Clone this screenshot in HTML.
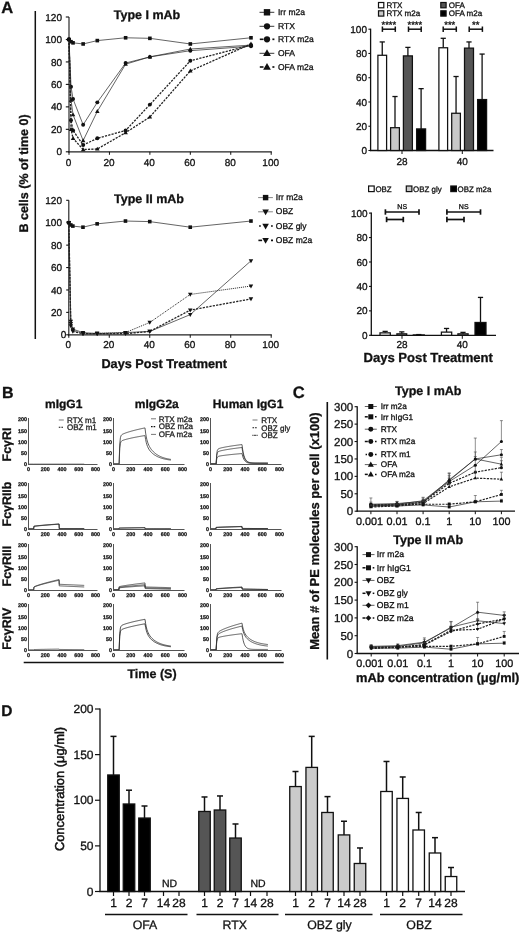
<!DOCTYPE html>
<html lang="en"><head><meta charset="utf-8"><title>Figure</title>
<style>
html,body{margin:0;padding:0;background:#fff;}
svg{display:block;font-family:"Liberation Sans", sans-serif;will-change:transform;transform:translateZ(0);filter:blur(0.35px);}
text{text-rendering:geometricPrecision;}
</style></head><body>
<svg width="520" height="934" viewBox="0 0 520 934">
<rect x="0" y="0" width="520" height="934" fill="#fff"/>
<text x="1.20" y="13.20" font-size="16.5" font-weight="bold" text-anchor="start" fill="#111" stroke="#111" stroke-width="0.3">A</text>
<line x1="35.30" y1="11.00" x2="35.30" y2="339.00" stroke="#111" stroke-width="1.5" stroke-linecap="butt"/>
<text x="28.00" y="173.50" font-size="12.5" font-weight="bold" text-anchor="middle" fill="#111" stroke="#111" stroke-width="0.3" transform="rotate(-90 28 173.5)">B cells (% of time 0)</text>
<line x1="69.00" y1="17.00" x2="69.00" y2="152.40" stroke="#222" stroke-width="1.15" stroke-linecap="butt"/>
<line x1="68.40" y1="151.80" x2="271.80" y2="151.80" stroke="#222" stroke-width="1.25" stroke-linecap="butt"/>
<line x1="65.80" y1="151.80" x2="69.00" y2="151.80" stroke="#111" stroke-width="1.1" stroke-linecap="butt"/>
<text x="62.00" y="155.40" font-size="10" font-weight="normal" text-anchor="end" fill="#111" stroke="#111" stroke-width="0.3">0</text>
<line x1="65.80" y1="129.33" x2="69.00" y2="129.33" stroke="#111" stroke-width="1.1" stroke-linecap="butt"/>
<text x="62.00" y="132.93" font-size="10" font-weight="normal" text-anchor="end" fill="#111" stroke="#111" stroke-width="0.3">20</text>
<line x1="65.80" y1="106.87" x2="69.00" y2="106.87" stroke="#111" stroke-width="1.1" stroke-linecap="butt"/>
<text x="62.00" y="110.47" font-size="10" font-weight="normal" text-anchor="end" fill="#111" stroke="#111" stroke-width="0.3">40</text>
<line x1="65.80" y1="84.40" x2="69.00" y2="84.40" stroke="#111" stroke-width="1.1" stroke-linecap="butt"/>
<text x="62.00" y="88.00" font-size="10" font-weight="normal" text-anchor="end" fill="#111" stroke="#111" stroke-width="0.3">60</text>
<line x1="65.80" y1="61.93" x2="69.00" y2="61.93" stroke="#111" stroke-width="1.1" stroke-linecap="butt"/>
<text x="62.00" y="65.53" font-size="10" font-weight="normal" text-anchor="end" fill="#111" stroke="#111" stroke-width="0.3">80</text>
<line x1="65.80" y1="39.47" x2="69.00" y2="39.47" stroke="#111" stroke-width="1.1" stroke-linecap="butt"/>
<text x="62.00" y="43.07" font-size="10" font-weight="normal" text-anchor="end" fill="#111" stroke="#111" stroke-width="0.3">100</text>
<line x1="65.80" y1="17.00" x2="69.00" y2="17.00" stroke="#111" stroke-width="1.1" stroke-linecap="butt"/>
<text x="62.00" y="20.60" font-size="10" font-weight="normal" text-anchor="end" fill="#111" stroke="#111" stroke-width="0.3">120</text>
<line x1="69.00" y1="151.80" x2="69.00" y2="154.80" stroke="#111" stroke-width="1" stroke-linecap="butt"/>
<text x="68.50" y="166.20" font-size="10" font-weight="normal" text-anchor="middle" fill="#111" stroke="#111" stroke-width="0.3">0</text>
<line x1="109.44" y1="151.80" x2="109.44" y2="154.80" stroke="#111" stroke-width="1" stroke-linecap="butt"/>
<text x="108.94" y="166.20" font-size="10" font-weight="normal" text-anchor="middle" fill="#111" stroke="#111" stroke-width="0.3">20</text>
<line x1="149.88" y1="151.80" x2="149.88" y2="154.80" stroke="#111" stroke-width="1" stroke-linecap="butt"/>
<text x="149.38" y="166.20" font-size="10" font-weight="normal" text-anchor="middle" fill="#111" stroke="#111" stroke-width="0.3">40</text>
<line x1="190.32" y1="151.80" x2="190.32" y2="154.80" stroke="#111" stroke-width="1" stroke-linecap="butt"/>
<text x="189.82" y="166.20" font-size="10" font-weight="normal" text-anchor="middle" fill="#111" stroke="#111" stroke-width="0.3">60</text>
<line x1="230.76" y1="151.80" x2="230.76" y2="154.80" stroke="#111" stroke-width="1" stroke-linecap="butt"/>
<text x="230.26" y="166.20" font-size="10" font-weight="normal" text-anchor="middle" fill="#111" stroke="#111" stroke-width="0.3">80</text>
<line x1="271.20" y1="151.80" x2="271.20" y2="154.80" stroke="#111" stroke-width="1" stroke-linecap="butt"/>
<text x="270.70" y="166.20" font-size="10" font-weight="normal" text-anchor="middle" fill="#111" stroke="#111" stroke-width="0.3">100</text>
<text x="147.00" y="18.50" font-size="12.5" font-weight="bold" text-anchor="middle" fill="#111" stroke="#111" stroke-width="0.3">Type I mAb</text>
<polyline points="69.00,39.47 71.02,41.71 73.04,42.84 83.15,43.96 97.31,40.59 125.62,37.78 149.88,38.34 190.32,43.96 250.98,37.78" fill="none" stroke="#222" stroke-width="0.7" stroke-linejoin="round"/>
<rect x="67.20" y="37.67" width="3.60" height="3.60" fill="#111"/>
<rect x="69.22" y="39.91" width="3.60" height="3.60" fill="#111"/>
<rect x="71.24" y="41.04" width="3.60" height="3.60" fill="#111"/>
<rect x="81.35" y="42.16" width="3.60" height="3.60" fill="#111"/>
<rect x="95.51" y="38.79" width="3.60" height="3.60" fill="#111"/>
<rect x="123.82" y="35.98" width="3.60" height="3.60" fill="#111"/>
<rect x="148.08" y="36.54" width="3.60" height="3.60" fill="#111"/>
<rect x="188.52" y="42.16" width="3.60" height="3.60" fill="#111"/>
<rect x="249.18" y="35.98" width="3.60" height="3.60" fill="#111"/>
<polyline points="69.00,39.47 71.02,86.65 73.04,99.00 83.15,124.84 97.31,102.37 125.62,63.06 149.88,56.88 190.32,50.70 250.98,46.21" fill="none" stroke="#222" stroke-width="0.7" stroke-linejoin="round"/>
<circle cx="69.00" cy="39.47" r="1.98" fill="#111"/>
<circle cx="71.02" cy="86.65" r="1.98" fill="#111"/>
<circle cx="73.04" cy="99.00" r="1.98" fill="#111"/>
<circle cx="83.15" cy="124.84" r="1.98" fill="#111"/>
<circle cx="97.31" cy="102.37" r="1.98" fill="#111"/>
<circle cx="125.62" cy="63.06" r="1.98" fill="#111"/>
<circle cx="149.88" cy="56.88" r="1.98" fill="#111"/>
<circle cx="190.32" cy="50.70" r="1.98" fill="#111"/>
<circle cx="250.98" cy="46.21" r="1.98" fill="#111"/>
<polyline points="69.00,39.47 71.02,100.13 73.04,114.73 83.15,140.57 97.31,111.36 125.62,64.18 149.88,56.88 190.32,49.02 250.98,45.08" fill="none" stroke="#222" stroke-width="0.7" stroke-linejoin="round"/>
<polygon points="69.00,37.13 66.75,41.09 71.25,41.09" fill="#111"/>
<polygon points="71.02,97.79 68.77,101.75 73.27,101.75" fill="#111"/>
<polygon points="73.04,112.39 70.79,116.35 75.29,116.35" fill="#111"/>
<polygon points="83.15,138.23 80.90,142.19 85.40,142.19" fill="#111"/>
<polygon points="97.31,109.02 95.06,112.98 99.56,112.98" fill="#111"/>
<polygon points="125.62,61.84 123.37,65.80 127.87,65.80" fill="#111"/>
<polygon points="149.88,54.54 147.63,58.50 152.13,58.50" fill="#111"/>
<polygon points="190.32,46.67 188.07,50.63 192.57,50.63" fill="#111"/>
<polygon points="250.98,42.74 248.73,46.70 253.23,46.70" fill="#111"/>
<polyline points="69.00,39.47 71.02,120.35 73.04,130.46 83.15,145.06 97.31,138.32 125.62,130.46 149.88,104.62 190.32,60.81 250.98,45.08" fill="none" stroke="#222" stroke-width="1.3" stroke-dasharray="2.2 1.2" stroke-linejoin="round"/>
<circle cx="69.00" cy="39.47" r="1.98" fill="#111"/>
<circle cx="71.02" cy="120.35" r="1.98" fill="#111"/>
<circle cx="73.04" cy="130.46" r="1.98" fill="#111"/>
<circle cx="83.15" cy="145.06" r="1.98" fill="#111"/>
<circle cx="97.31" cy="138.32" r="1.98" fill="#111"/>
<circle cx="125.62" cy="130.46" r="1.98" fill="#111"/>
<circle cx="149.88" cy="104.62" r="1.98" fill="#111"/>
<circle cx="190.32" cy="60.81" r="1.98" fill="#111"/>
<circle cx="250.98" cy="45.08" r="1.98" fill="#111"/>
<polyline points="69.00,39.47 71.02,129.33 73.04,138.32 83.15,149.55 97.31,148.99 125.62,132.70 149.88,116.98 190.32,70.92 250.98,43.96" fill="none" stroke="#222" stroke-width="1.3" stroke-dasharray="2.2 1.2" stroke-linejoin="round"/>
<polygon points="69.00,37.13 66.75,41.09 71.25,41.09" fill="#111"/>
<polygon points="71.02,126.99 68.77,130.95 73.27,130.95" fill="#111"/>
<polygon points="73.04,135.98 70.79,139.94 75.29,139.94" fill="#111"/>
<polygon points="83.15,147.21 80.90,151.17 85.40,151.17" fill="#111"/>
<polygon points="97.31,146.65 95.06,150.61 99.56,150.61" fill="#111"/>
<polygon points="125.62,130.36 123.37,134.32 127.87,134.32" fill="#111"/>
<polygon points="149.88,114.64 147.63,118.60 152.13,118.60" fill="#111"/>
<polygon points="190.32,68.58 188.07,72.54 192.57,72.54" fill="#111"/>
<polygon points="250.98,41.62 248.73,45.58 253.23,45.58" fill="#111"/>
<line x1="259.50" y1="12.30" x2="274.30" y2="12.30" stroke="#222" stroke-width="0.9" stroke-linecap="butt"/>
<rect x="263.80" y="9.10" width="6.40" height="6.40" fill="#111"/>
<text x="278.00" y="14.90" font-size="8.5" font-weight="normal" text-anchor="start" fill="#111" stroke="#111" stroke-width="0.3">Irr m2a</text>
<line x1="259.50" y1="26.30" x2="274.30" y2="26.30" stroke="#222" stroke-width="0.9" stroke-linecap="butt"/>
<circle cx="267.00" cy="26.30" r="3.14" fill="#111"/>
<text x="278.00" y="28.90" font-size="8.5" font-weight="normal" text-anchor="start" fill="#111" stroke="#111" stroke-width="0.3">RTX</text>
<line x1="259.80" y1="39.30" x2="263.50" y2="39.30" stroke="#111" stroke-width="1.6" stroke-linecap="butt"/>
<line x1="272.40" y1="39.30" x2="274.40" y2="39.30" stroke="#111" stroke-width="1.7" stroke-linecap="butt"/>
<circle cx="267.00" cy="39.30" r="3.14" fill="#111"/>
<text x="278.00" y="41.90" font-size="8.5" font-weight="normal" text-anchor="start" fill="#111" stroke="#111" stroke-width="0.3">RTX m2a</text>
<line x1="259.50" y1="53.30" x2="274.30" y2="53.30" stroke="#222" stroke-width="0.9" stroke-linecap="butt"/>
<polygon points="267.00,49.27 263.12,56.09 270.88,56.09" fill="#111"/>
<text x="278.00" y="55.90" font-size="8.5" font-weight="normal" text-anchor="start" fill="#111" stroke="#111" stroke-width="0.3">OFA</text>
<line x1="259.80" y1="67.00" x2="263.50" y2="67.00" stroke="#111" stroke-width="1.6" stroke-linecap="butt"/>
<line x1="272.40" y1="67.00" x2="274.40" y2="67.00" stroke="#111" stroke-width="1.7" stroke-linecap="butt"/>
<polygon points="267.00,62.97 263.12,69.79 270.88,69.79" fill="#111"/>
<text x="278.00" y="69.60" font-size="8.5" font-weight="normal" text-anchor="start" fill="#111" stroke="#111" stroke-width="0.3">OFA m2a</text>
<line x1="68.80" y1="200.30" x2="68.80" y2="335.40" stroke="#222" stroke-width="1.15" stroke-linecap="butt"/>
<line x1="68.20" y1="334.80" x2="271.80" y2="334.80" stroke="#222" stroke-width="1.25" stroke-linecap="butt"/>
<line x1="66.20" y1="334.80" x2="68.80" y2="334.80" stroke="#111" stroke-width="1.1" stroke-linecap="butt"/>
<text x="66.20" y="338.40" font-size="10" font-weight="normal" text-anchor="end" fill="#111" stroke="#111" stroke-width="0.3">0</text>
<line x1="66.20" y1="312.38" x2="68.80" y2="312.38" stroke="#111" stroke-width="1.1" stroke-linecap="butt"/>
<text x="62.00" y="315.98" font-size="10" font-weight="normal" text-anchor="end" fill="#111" stroke="#111" stroke-width="0.3">20</text>
<line x1="66.20" y1="289.97" x2="68.80" y2="289.97" stroke="#111" stroke-width="1.1" stroke-linecap="butt"/>
<text x="62.00" y="293.57" font-size="10" font-weight="normal" text-anchor="end" fill="#111" stroke="#111" stroke-width="0.3">40</text>
<line x1="66.20" y1="267.55" x2="68.80" y2="267.55" stroke="#111" stroke-width="1.1" stroke-linecap="butt"/>
<text x="62.00" y="271.15" font-size="10" font-weight="normal" text-anchor="end" fill="#111" stroke="#111" stroke-width="0.3">60</text>
<line x1="66.20" y1="245.13" x2="68.80" y2="245.13" stroke="#111" stroke-width="1.1" stroke-linecap="butt"/>
<text x="62.00" y="248.73" font-size="10" font-weight="normal" text-anchor="end" fill="#111" stroke="#111" stroke-width="0.3">80</text>
<line x1="66.20" y1="222.72" x2="68.80" y2="222.72" stroke="#111" stroke-width="1.1" stroke-linecap="butt"/>
<text x="62.00" y="226.32" font-size="10" font-weight="normal" text-anchor="end" fill="#111" stroke="#111" stroke-width="0.3">100</text>
<line x1="66.20" y1="200.30" x2="68.80" y2="200.30" stroke="#111" stroke-width="1.1" stroke-linecap="butt"/>
<text x="62.00" y="203.90" font-size="10" font-weight="normal" text-anchor="end" fill="#111" stroke="#111" stroke-width="0.3">120</text>
<line x1="68.80" y1="334.80" x2="68.80" y2="337.80" stroke="#111" stroke-width="1" stroke-linecap="butt"/>
<text x="68.30" y="348.00" font-size="10" font-weight="normal" text-anchor="middle" fill="#111" stroke="#111" stroke-width="0.3">0</text>
<line x1="109.28" y1="334.80" x2="109.28" y2="337.80" stroke="#111" stroke-width="1" stroke-linecap="butt"/>
<text x="108.78" y="348.00" font-size="10" font-weight="normal" text-anchor="middle" fill="#111" stroke="#111" stroke-width="0.3">20</text>
<line x1="149.76" y1="334.80" x2="149.76" y2="337.80" stroke="#111" stroke-width="1" stroke-linecap="butt"/>
<text x="149.26" y="348.00" font-size="10" font-weight="normal" text-anchor="middle" fill="#111" stroke="#111" stroke-width="0.3">40</text>
<line x1="190.24" y1="334.80" x2="190.24" y2="337.80" stroke="#111" stroke-width="1" stroke-linecap="butt"/>
<text x="189.74" y="348.00" font-size="10" font-weight="normal" text-anchor="middle" fill="#111" stroke="#111" stroke-width="0.3">60</text>
<line x1="230.72" y1="334.80" x2="230.72" y2="337.80" stroke="#111" stroke-width="1" stroke-linecap="butt"/>
<text x="230.22" y="348.00" font-size="10" font-weight="normal" text-anchor="middle" fill="#111" stroke="#111" stroke-width="0.3">80</text>
<line x1="271.20" y1="334.80" x2="271.20" y2="337.80" stroke="#111" stroke-width="1" stroke-linecap="butt"/>
<text x="270.70" y="348.00" font-size="10" font-weight="normal" text-anchor="middle" fill="#111" stroke="#111" stroke-width="0.3">100</text>
<text x="149.00" y="203.00" font-size="12.5" font-weight="bold" text-anchor="middle" fill="#111" stroke="#111" stroke-width="0.3">Type II mAb</text>
<polyline points="68.80,222.72 70.82,224.96 72.85,226.08 82.97,227.20 97.14,223.84 125.47,221.04 149.76,221.60 190.24,227.20 250.96,221.04" fill="none" stroke="#222" stroke-width="0.7" stroke-linejoin="round"/>
<rect x="67.00" y="220.92" width="3.60" height="3.60" fill="#111"/>
<rect x="69.02" y="223.16" width="3.60" height="3.60" fill="#111"/>
<rect x="71.05" y="224.28" width="3.60" height="3.60" fill="#111"/>
<rect x="81.17" y="225.40" width="3.60" height="3.60" fill="#111"/>
<rect x="95.34" y="222.04" width="3.60" height="3.60" fill="#111"/>
<rect x="123.67" y="219.24" width="3.60" height="3.60" fill="#111"/>
<rect x="147.96" y="219.80" width="3.60" height="3.60" fill="#111"/>
<rect x="188.44" y="225.40" width="3.60" height="3.60" fill="#111"/>
<rect x="249.16" y="219.24" width="3.60" height="3.60" fill="#111"/>
<polyline points="68.80,222.72 70.82,321.35 72.85,329.20 82.97,332.56 97.14,333.68 125.47,332.56 149.76,331.44 190.24,314.62 250.96,260.83" fill="none" stroke="#222" stroke-width="0.7" stroke-linejoin="round"/>
<polygon points="68.80,225.06 66.55,221.10 71.05,221.10" fill="#111"/>
<polygon points="70.82,323.69 68.57,319.73 73.07,319.73" fill="#111"/>
<polygon points="72.85,331.54 70.60,327.58 75.10,327.58" fill="#111"/>
<polygon points="82.97,334.90 80.72,330.94 85.22,330.94" fill="#111"/>
<polygon points="97.14,336.02 94.89,332.06 99.39,332.06" fill="#111"/>
<polygon points="125.47,334.90 123.22,330.94 127.72,330.94" fill="#111"/>
<polygon points="149.76,333.78 147.51,329.82 152.01,329.82" fill="#111"/>
<polygon points="190.24,316.96 187.99,313.00 192.49,313.00" fill="#111"/>
<polygon points="250.96,263.17 248.71,259.21 253.21,259.21" fill="#111"/>
<polyline points="68.80,222.72 70.82,323.59 72.85,330.32 82.97,333.68 97.14,333.12 125.47,332.56 149.76,322.47 190.24,294.45 250.96,286.04" fill="none" stroke="#222" stroke-width="1.0" stroke-dasharray="1 1" stroke-linejoin="round"/>
<polygon points="68.80,225.06 66.55,221.10 71.05,221.10" fill="#111"/>
<polygon points="70.82,325.93 68.57,321.97 73.07,321.97" fill="#111"/>
<polygon points="72.85,332.66 70.60,328.70 75.10,328.70" fill="#111"/>
<polygon points="82.97,336.02 80.72,332.06 85.22,332.06" fill="#111"/>
<polygon points="97.14,335.46 94.89,331.50 99.39,331.50" fill="#111"/>
<polygon points="125.47,334.90 123.22,330.94 127.72,330.94" fill="#111"/>
<polygon points="149.76,324.81 147.51,320.85 152.01,320.85" fill="#111"/>
<polygon points="190.24,296.79 187.99,292.83 192.49,292.83" fill="#111"/>
<polygon points="250.96,288.38 248.71,284.42 253.21,284.42" fill="#111"/>
<polyline points="68.80,222.72 70.82,325.83 72.85,331.44 82.97,333.68 97.14,333.68 125.47,333.68 149.76,331.44 190.24,310.14 250.96,298.93" fill="none" stroke="#222" stroke-width="1.3" stroke-dasharray="2.2 1.2" stroke-linejoin="round"/>
<polygon points="68.80,225.06 66.55,221.10 71.05,221.10" fill="#111"/>
<polygon points="70.82,328.17 68.57,324.21 73.07,324.21" fill="#111"/>
<polygon points="72.85,333.78 70.60,329.82 75.10,329.82" fill="#111"/>
<polygon points="82.97,336.02 80.72,332.06 85.22,332.06" fill="#111"/>
<polygon points="97.14,336.02 94.89,332.06 99.39,332.06" fill="#111"/>
<polygon points="125.47,336.02 123.22,332.06 127.72,332.06" fill="#111"/>
<polygon points="149.76,333.78 147.51,329.82 152.01,329.82" fill="#111"/>
<polygon points="190.24,312.48 187.99,308.52 192.49,308.52" fill="#111"/>
<polygon points="250.96,301.27 248.71,297.31 253.21,297.31" fill="#111"/>
<line x1="258.10" y1="197.60" x2="272.90" y2="197.60" stroke="#777" stroke-width="0.9" stroke-linecap="butt"/>
<rect x="262.88" y="194.88" width="5.44" height="5.44" fill="#111"/>
<text x="275.80" y="200.20" font-size="8.5" font-weight="normal" text-anchor="start" fill="#111" stroke="#111" stroke-width="0.3">Irr m2a</text>
<line x1="258.10" y1="211.80" x2="272.90" y2="211.80" stroke="#777" stroke-width="0.9" stroke-linecap="butt"/>
<polygon points="265.60,215.23 262.31,209.43 268.89,209.43" fill="#111"/>
<text x="275.80" y="214.40" font-size="8.5" font-weight="normal" text-anchor="start" fill="#111" stroke="#111" stroke-width="0.3">OBZ</text>
<line x1="259.10" y1="226.00" x2="260.80" y2="226.00" stroke="#111" stroke-width="1.6" stroke-linecap="butt"/>
<line x1="271.00" y1="226.00" x2="272.80" y2="226.00" stroke="#111" stroke-width="1.7" stroke-linecap="butt"/>
<polygon points="265.60,229.43 262.31,223.63 268.89,223.63" fill="#111"/>
<text x="275.80" y="228.60" font-size="8.5" font-weight="normal" text-anchor="start" fill="#111" stroke="#111" stroke-width="0.3">OBZ gly</text>
<line x1="258.40" y1="240.40" x2="262.10" y2="240.40" stroke="#111" stroke-width="1.6" stroke-linecap="butt"/>
<line x1="271.00" y1="240.40" x2="273.00" y2="240.40" stroke="#111" stroke-width="1.7" stroke-linecap="butt"/>
<polygon points="265.60,243.83 262.31,238.03 268.89,238.03" fill="#111"/>
<text x="275.80" y="243.00" font-size="8.5" font-weight="normal" text-anchor="start" fill="#111" stroke="#111" stroke-width="0.3">OBZ m2a</text>
<text x="164.20" y="367.50" font-size="12.7" font-weight="bold" text-anchor="middle" fill="#111" stroke="#111" stroke-width="0.3">Days Post Treatment</text>
<line x1="370.60" y1="28.70" x2="370.60" y2="151.10" stroke="#111" stroke-width="1.3" stroke-linecap="butt"/>
<line x1="370.00" y1="150.50" x2="493.50" y2="150.50" stroke="#111" stroke-width="1.3" stroke-linecap="butt"/>
<line x1="368.40" y1="150.50" x2="370.60" y2="150.50" stroke="#111" stroke-width="1.1" stroke-linecap="butt"/>
<text x="367.00" y="154.10" font-size="10" font-weight="normal" text-anchor="end" fill="#111" stroke="#111" stroke-width="0.3">0</text>
<line x1="368.40" y1="126.24" x2="370.60" y2="126.24" stroke="#111" stroke-width="1.1" stroke-linecap="butt"/>
<text x="367.00" y="129.84" font-size="10" font-weight="normal" text-anchor="end" fill="#111" stroke="#111" stroke-width="0.3">20</text>
<line x1="368.40" y1="101.98" x2="370.60" y2="101.98" stroke="#111" stroke-width="1.1" stroke-linecap="butt"/>
<text x="367.00" y="105.58" font-size="10" font-weight="normal" text-anchor="end" fill="#111" stroke="#111" stroke-width="0.3">40</text>
<line x1="368.40" y1="77.72" x2="370.60" y2="77.72" stroke="#111" stroke-width="1.1" stroke-linecap="butt"/>
<text x="367.00" y="81.32" font-size="10" font-weight="normal" text-anchor="end" fill="#111" stroke="#111" stroke-width="0.3">60</text>
<line x1="368.40" y1="53.46" x2="370.60" y2="53.46" stroke="#111" stroke-width="1.1" stroke-linecap="butt"/>
<text x="367.00" y="57.06" font-size="10" font-weight="normal" text-anchor="end" fill="#111" stroke="#111" stroke-width="0.3">80</text>
<line x1="368.40" y1="29.20" x2="370.60" y2="29.20" stroke="#111" stroke-width="1.1" stroke-linecap="butt"/>
<text x="367.00" y="32.80" font-size="10" font-weight="normal" text-anchor="end" fill="#111" stroke="#111" stroke-width="0.3">100</text>
<line x1="382.25" y1="41.94" x2="382.25" y2="55.28" stroke="#111" stroke-width="1.3" stroke-linecap="butt"/>
<line x1="379.65" y1="41.94" x2="384.85" y2="41.94" stroke="#111" stroke-width="1.3" stroke-linecap="butt"/>
<rect x="377.90" y="55.28" width="8.70" height="95.22" fill="#fff" stroke="#111" stroke-width="1.25"/>
<line x1="395.00" y1="96.52" x2="395.00" y2="127.70" stroke="#111" stroke-width="1.3" stroke-linecap="butt"/>
<line x1="392.40" y1="96.52" x2="397.60" y2="96.52" stroke="#111" stroke-width="1.3" stroke-linecap="butt"/>
<rect x="390.60" y="127.70" width="8.80" height="22.80" fill="#c8c8c8" stroke="#111" stroke-width="1.25"/>
<line x1="407.90" y1="47.39" x2="407.90" y2="55.89" stroke="#111" stroke-width="1.3" stroke-linecap="butt"/>
<line x1="405.30" y1="47.39" x2="410.50" y2="47.39" stroke="#111" stroke-width="1.3" stroke-linecap="butt"/>
<rect x="403.40" y="55.89" width="9.00" height="94.61" fill="#555" stroke="#111" stroke-width="1.25"/>
<line x1="421.10" y1="88.64" x2="421.10" y2="128.91" stroke="#111" stroke-width="1.3" stroke-linecap="butt"/>
<line x1="418.50" y1="88.64" x2="423.70" y2="88.64" stroke="#111" stroke-width="1.3" stroke-linecap="butt"/>
<rect x="416.60" y="128.91" width="9.00" height="21.59" fill="#000" stroke="#111" stroke-width="1.25"/>
<line x1="443.25" y1="38.30" x2="443.25" y2="47.76" stroke="#111" stroke-width="1.3" stroke-linecap="butt"/>
<line x1="440.65" y1="38.30" x2="445.85" y2="38.30" stroke="#111" stroke-width="1.3" stroke-linecap="butt"/>
<rect x="438.90" y="47.76" width="8.70" height="102.74" fill="#fff" stroke="#111" stroke-width="1.25"/>
<line x1="456.05" y1="76.51" x2="456.05" y2="113.26" stroke="#111" stroke-width="1.3" stroke-linecap="butt"/>
<line x1="453.45" y1="76.51" x2="458.65" y2="76.51" stroke="#111" stroke-width="1.3" stroke-linecap="butt"/>
<rect x="451.70" y="113.26" width="8.70" height="37.24" fill="#c8c8c8" stroke="#111" stroke-width="1.25"/>
<line x1="469.00" y1="41.94" x2="469.00" y2="48.12" stroke="#111" stroke-width="1.3" stroke-linecap="butt"/>
<line x1="466.40" y1="41.94" x2="471.60" y2="41.94" stroke="#111" stroke-width="1.3" stroke-linecap="butt"/>
<rect x="464.50" y="48.12" width="9.00" height="102.38" fill="#555" stroke="#111" stroke-width="1.25"/>
<line x1="482.10" y1="54.07" x2="482.10" y2="99.55" stroke="#111" stroke-width="1.3" stroke-linecap="butt"/>
<line x1="479.50" y1="54.07" x2="484.70" y2="54.07" stroke="#111" stroke-width="1.3" stroke-linecap="butt"/>
<rect x="477.60" y="99.55" width="9.00" height="50.95" fill="#000" stroke="#111" stroke-width="1.25"/>
<line x1="402.00" y1="150.50" x2="402.00" y2="154.00" stroke="#111" stroke-width="1" stroke-linecap="butt"/>
<text x="402.00" y="164.50" font-size="10" font-weight="normal" text-anchor="middle" fill="#111" stroke="#111" stroke-width="0.3">28</text>
<line x1="462.30" y1="150.50" x2="462.30" y2="154.00" stroke="#111" stroke-width="1" stroke-linecap="butt"/>
<text x="462.30" y="164.50" font-size="10" font-weight="normal" text-anchor="middle" fill="#111" stroke="#111" stroke-width="0.3">40</text>
<rect x="378.50" y="2.50" width="5.30" height="5.30" fill="#fff" stroke="#111" stroke-width="1.2"/>
<text x="386.50" y="7.90" font-size="8" font-weight="normal" text-anchor="start" fill="#111" stroke="#111" stroke-width="0.3">RTX</text>
<rect x="378.50" y="10.80" width="5.30" height="5.30" fill="#c8c8c8" stroke="#111" stroke-width="1.2"/>
<text x="386.50" y="16.20" font-size="8" font-weight="normal" text-anchor="start" fill="#111" stroke="#111" stroke-width="0.3">RTX m2a</text>
<rect x="440.80" y="2.50" width="5.30" height="5.30" fill="#555" stroke="#111" stroke-width="1.2"/>
<text x="448.80" y="7.90" font-size="8" font-weight="normal" text-anchor="start" fill="#111" stroke="#111" stroke-width="0.3">OFA</text>
<rect x="440.80" y="10.80" width="5.30" height="5.30" fill="#000" stroke="#111" stroke-width="1.2"/>
<text x="448.80" y="16.20" font-size="8" font-weight="normal" text-anchor="start" fill="#111" stroke="#111" stroke-width="0.3">OFA m2a</text>
<line x1="382.40" y1="29.20" x2="395.30" y2="29.20" stroke="#111" stroke-width="1.5" stroke-linecap="butt"/>
<line x1="382.40" y1="26.50" x2="382.40" y2="31.90" stroke="#111" stroke-width="1.5" stroke-linecap="butt"/>
<line x1="395.30" y1="26.50" x2="395.30" y2="31.90" stroke="#111" stroke-width="1.5" stroke-linecap="butt"/>
<text x="388.85" y="28.00" font-size="9.5" font-weight="normal" text-anchor="middle" fill="#111" stroke="#111" stroke-width="0.3">****</text>
<line x1="408.50" y1="29.20" x2="421.20" y2="29.20" stroke="#111" stroke-width="1.5" stroke-linecap="butt"/>
<line x1="408.50" y1="26.50" x2="408.50" y2="31.90" stroke="#111" stroke-width="1.5" stroke-linecap="butt"/>
<line x1="421.20" y1="26.50" x2="421.20" y2="31.90" stroke="#111" stroke-width="1.5" stroke-linecap="butt"/>
<text x="414.85" y="28.00" font-size="9.5" font-weight="normal" text-anchor="middle" fill="#111" stroke="#111" stroke-width="0.3">****</text>
<line x1="443.20" y1="29.20" x2="456.30" y2="29.20" stroke="#111" stroke-width="1.5" stroke-linecap="butt"/>
<line x1="443.20" y1="26.50" x2="443.20" y2="31.90" stroke="#111" stroke-width="1.5" stroke-linecap="butt"/>
<line x1="456.30" y1="26.50" x2="456.30" y2="31.90" stroke="#111" stroke-width="1.5" stroke-linecap="butt"/>
<text x="449.75" y="28.00" font-size="9.5" font-weight="normal" text-anchor="middle" fill="#111" stroke="#111" stroke-width="0.3">***</text>
<line x1="469.20" y1="29.20" x2="482.40" y2="29.20" stroke="#111" stroke-width="1.5" stroke-linecap="butt"/>
<line x1="469.20" y1="26.50" x2="469.20" y2="31.90" stroke="#111" stroke-width="1.5" stroke-linecap="butt"/>
<line x1="482.40" y1="26.50" x2="482.40" y2="31.90" stroke="#111" stroke-width="1.5" stroke-linecap="butt"/>
<text x="475.80" y="28.00" font-size="9.5" font-weight="normal" text-anchor="middle" fill="#111" stroke="#111" stroke-width="0.3">**</text>
<line x1="371.30" y1="212.60" x2="371.30" y2="335.90" stroke="#111" stroke-width="1.3" stroke-linecap="butt"/>
<line x1="370.70" y1="335.30" x2="496.00" y2="335.30" stroke="#111" stroke-width="1.3" stroke-linecap="butt"/>
<line x1="369.00" y1="335.30" x2="371.30" y2="335.30" stroke="#111" stroke-width="1.1" stroke-linecap="butt"/>
<text x="367.60" y="338.90" font-size="10" font-weight="normal" text-anchor="end" fill="#111" stroke="#111" stroke-width="0.3">0</text>
<line x1="369.00" y1="310.86" x2="371.30" y2="310.86" stroke="#111" stroke-width="1.1" stroke-linecap="butt"/>
<text x="367.60" y="314.46" font-size="10" font-weight="normal" text-anchor="end" fill="#111" stroke="#111" stroke-width="0.3">20</text>
<line x1="369.00" y1="286.42" x2="371.30" y2="286.42" stroke="#111" stroke-width="1.1" stroke-linecap="butt"/>
<text x="367.60" y="290.02" font-size="10" font-weight="normal" text-anchor="end" fill="#111" stroke="#111" stroke-width="0.3">40</text>
<line x1="369.00" y1="261.98" x2="371.30" y2="261.98" stroke="#111" stroke-width="1.1" stroke-linecap="butt"/>
<text x="367.60" y="265.58" font-size="10" font-weight="normal" text-anchor="end" fill="#111" stroke="#111" stroke-width="0.3">60</text>
<line x1="369.00" y1="237.54" x2="371.30" y2="237.54" stroke="#111" stroke-width="1.1" stroke-linecap="butt"/>
<text x="367.60" y="241.14" font-size="10" font-weight="normal" text-anchor="end" fill="#111" stroke="#111" stroke-width="0.3">80</text>
<line x1="369.00" y1="213.10" x2="371.30" y2="213.10" stroke="#111" stroke-width="1.1" stroke-linecap="butt"/>
<text x="367.60" y="216.70" font-size="10" font-weight="normal" text-anchor="end" fill="#111" stroke="#111" stroke-width="0.3">100</text>
<line x1="385.15" y1="331.39" x2="385.15" y2="332.86" stroke="#111" stroke-width="1.3" stroke-linecap="butt"/>
<line x1="382.55" y1="331.39" x2="387.75" y2="331.39" stroke="#111" stroke-width="1.3" stroke-linecap="butt"/>
<rect x="380.00" y="332.86" width="10.30" height="2.44" fill="#fff" stroke="#111" stroke-width="1.25"/>
<line x1="401.80" y1="331.88" x2="401.80" y2="333.83" stroke="#111" stroke-width="1.3" stroke-linecap="butt"/>
<line x1="399.20" y1="331.88" x2="404.40" y2="331.88" stroke="#111" stroke-width="1.3" stroke-linecap="butt"/>
<rect x="396.90" y="333.83" width="9.80" height="1.47" fill="#c8c8c8" stroke="#111" stroke-width="1.25"/>
<line x1="418.80" y1="334.57" x2="418.80" y2="334.93" stroke="#111" stroke-width="1.3" stroke-linecap="butt"/>
<line x1="416.20" y1="334.57" x2="421.40" y2="334.57" stroke="#111" stroke-width="1.3" stroke-linecap="butt"/>
<rect x="413.30" y="334.93" width="11.00" height="0.37" fill="#000" stroke="#111" stroke-width="1.25"/>
<line x1="446.55" y1="328.46" x2="446.55" y2="332.12" stroke="#111" stroke-width="1.3" stroke-linecap="butt"/>
<line x1="443.95" y1="328.46" x2="449.15" y2="328.46" stroke="#111" stroke-width="1.3" stroke-linecap="butt"/>
<rect x="441.40" y="332.12" width="10.30" height="3.18" fill="#fff" stroke="#111" stroke-width="1.25"/>
<line x1="463.00" y1="332.37" x2="463.00" y2="333.83" stroke="#111" stroke-width="1.3" stroke-linecap="butt"/>
<line x1="460.40" y1="332.37" x2="465.60" y2="332.37" stroke="#111" stroke-width="1.3" stroke-linecap="butt"/>
<rect x="457.90" y="333.83" width="10.20" height="1.47" fill="#c8c8c8" stroke="#111" stroke-width="1.25"/>
<line x1="480.50" y1="297.42" x2="480.50" y2="322.47" stroke="#111" stroke-width="1.3" stroke-linecap="butt"/>
<line x1="477.90" y1="297.42" x2="483.10" y2="297.42" stroke="#111" stroke-width="1.3" stroke-linecap="butt"/>
<rect x="475.00" y="322.47" width="11.00" height="12.83" fill="#000" stroke="#111" stroke-width="1.25"/>
<line x1="402.00" y1="335.30" x2="402.00" y2="338.80" stroke="#111" stroke-width="1" stroke-linecap="butt"/>
<text x="402.00" y="347.90" font-size="10" font-weight="normal" text-anchor="middle" fill="#111" stroke="#111" stroke-width="0.3">28</text>
<line x1="462.30" y1="335.30" x2="462.30" y2="338.80" stroke="#111" stroke-width="1" stroke-linecap="butt"/>
<text x="462.30" y="347.90" font-size="10" font-weight="normal" text-anchor="middle" fill="#111" stroke="#111" stroke-width="0.3">40</text>
<rect x="368.60" y="186.00" width="5.60" height="5.60" fill="#fff" stroke="#111" stroke-width="1.2"/>
<text x="375.40" y="191.60" font-size="7.9" font-weight="normal" text-anchor="start" fill="#111" stroke="#111" stroke-width="0.3">OBZ</text>
<rect x="406.30" y="186.00" width="5.60" height="5.60" fill="#c8c8c8" stroke="#111" stroke-width="1.2"/>
<text x="413.10" y="191.60" font-size="7.9" font-weight="normal" text-anchor="start" fill="#111" stroke="#111" stroke-width="0.3">OBZ gly</text>
<rect x="450.80" y="186.00" width="5.60" height="5.60" fill="#000" stroke="#111" stroke-width="1.2"/>
<text x="457.60" y="191.60" font-size="7.9" font-weight="normal" text-anchor="start" fill="#111" stroke="#111" stroke-width="0.3">OBZ m2a</text>
<line x1="385.40" y1="212.00" x2="419.00" y2="212.00" stroke="#111" stroke-width="1.7" stroke-linecap="butt"/>
<line x1="385.40" y1="209.30" x2="385.40" y2="214.70" stroke="#111" stroke-width="1.7" stroke-linecap="butt"/>
<line x1="419.00" y1="209.30" x2="419.00" y2="214.70" stroke="#111" stroke-width="1.7" stroke-linecap="butt"/>
<text x="402.20" y="208.90" font-size="7" font-weight="normal" text-anchor="middle" fill="#111" stroke="#111" stroke-width="0.3">NS</text>
<line x1="386.60" y1="219.50" x2="403.30" y2="219.50" stroke="#111" stroke-width="1.7" stroke-linecap="butt"/>
<line x1="386.60" y1="216.80" x2="386.60" y2="222.20" stroke="#111" stroke-width="1.7" stroke-linecap="butt"/>
<line x1="403.30" y1="216.80" x2="403.30" y2="222.20" stroke="#111" stroke-width="1.7" stroke-linecap="butt"/>
<line x1="446.90" y1="212.00" x2="480.50" y2="212.00" stroke="#111" stroke-width="1.7" stroke-linecap="butt"/>
<line x1="446.90" y1="209.30" x2="446.90" y2="214.70" stroke="#111" stroke-width="1.7" stroke-linecap="butt"/>
<line x1="480.50" y1="209.30" x2="480.50" y2="214.70" stroke="#111" stroke-width="1.7" stroke-linecap="butt"/>
<text x="463.70" y="208.90" font-size="7" font-weight="normal" text-anchor="middle" fill="#111" stroke="#111" stroke-width="0.3">NS</text>
<line x1="446.90" y1="219.50" x2="464.00" y2="219.50" stroke="#111" stroke-width="1.7" stroke-linecap="butt"/>
<line x1="446.90" y1="216.80" x2="446.90" y2="222.20" stroke="#111" stroke-width="1.7" stroke-linecap="butt"/>
<line x1="464.00" y1="216.80" x2="464.00" y2="222.20" stroke="#111" stroke-width="1.7" stroke-linecap="butt"/>
<text x="428.20" y="362.00" font-size="13.1" font-weight="bold" text-anchor="middle" fill="#111" stroke="#111" stroke-width="0.3">Days Post Treatment</text>
<text x="2.00" y="398.00" font-size="16" font-weight="bold" text-anchor="start" fill="#111" stroke="#111" stroke-width="0.3">B</text>
<text x="63.70" y="408.40" font-size="12" font-weight="bold" text-anchor="middle" fill="#111" stroke="#111" stroke-width="0.3">mIgG1</text>
<text x="156.80" y="408.20" font-size="12" font-weight="bold" text-anchor="middle" fill="#111" stroke="#111" stroke-width="0.3">mIgG2a</text>
<text x="248.00" y="408.20" font-size="12" font-weight="bold" text-anchor="middle" fill="#111" stroke="#111" stroke-width="0.3">Human IgG1</text>
<text x="11.40" y="461.40" font-size="12.4" font-weight="bold" text-anchor="start" fill="#111" stroke="#111" stroke-width="0.3" transform="rotate(-90 11.4 461.4)">FcγRI</text>
<text x="11.40" y="526.40" font-size="12.4" font-weight="bold" text-anchor="start" fill="#111" stroke="#111" stroke-width="0.3" transform="rotate(-90 11.4 526.4)">FcγRIIb</text>
<text x="11.40" y="586.40" font-size="12.4" font-weight="bold" text-anchor="start" fill="#111" stroke="#111" stroke-width="0.3" transform="rotate(-90 11.4 586.4)">FcγRIII</text>
<text x="11.40" y="649.70" font-size="12.4" font-weight="bold" text-anchor="start" fill="#111" stroke="#111" stroke-width="0.3" transform="rotate(-90 11.4 649.7)">FcγRIV</text>
<polyline points="28.50,463.90 33.69,463.90 33.94,463.83 34.57,463.83 35.20,463.83 35.83,463.83 36.46,463.83 37.08,463.83 37.71,463.83 38.34,463.83 38.97,463.83 39.60,463.83 40.23,463.83 40.85,463.83 41.48,463.83 42.11,463.83 42.74,463.83 43.37,463.83 43.99,463.83 44.62,463.83 45.25,463.83 45.88,463.83 46.51,463.83 47.13,463.83 47.76,463.83 48.39,463.83 49.02,463.83 49.65,463.83 50.28,463.83 50.90,463.83 51.53,463.83 52.16,463.83 52.79,463.83 53.42,463.83 54.04,463.83 54.67,463.83 55.30,463.83 55.93,463.83 56.56,463.83 57.18,463.83 57.81,463.83 58.44,463.83 59.07,463.83 59.24,463.85 59.70,463.85 60.33,463.85 60.95,463.85 61.58,463.85 62.21,463.85 62.84,463.85 63.47,463.85 64.09,463.85 64.72,463.85 65.35,463.85 65.98,463.85 66.61,463.85 67.23,463.85 67.86,463.85 68.49,463.85 69.12,463.85 69.75,463.85 70.38,463.85 71.00,463.85 71.63,463.85 72.26,463.85 72.89,463.85 73.52,463.85 74.14,463.85 74.77,463.85 75.40,463.85 76.03,463.85 76.66,463.85 77.28,463.85 77.91,463.85 78.54,463.85 79.17,463.85 79.80,463.85 80.43,463.85 81.05,463.85 81.68,463.85 82.31,463.85 82.94,463.85 83.57,463.85 84.19,463.85" fill="none" stroke="#888" stroke-width="0.8" stroke-linejoin="round"/>
<line x1="28.50" y1="418.00" x2="28.50" y2="465.00" stroke="#555" stroke-width="1" stroke-linecap="butt"/>
<line x1="28.00" y1="464.50" x2="97.50" y2="464.50" stroke="#555" stroke-width="1" stroke-linecap="butt"/>
<text x="27.10" y="466.30" font-size="5.4" font-weight="bold" text-anchor="end" fill="#111" stroke="#111" stroke-width="0.25">0</text>
<text x="27.10" y="455.05" font-size="5.4" font-weight="bold" text-anchor="end" fill="#111" stroke="#111" stroke-width="0.25">50</text>
<text x="27.10" y="443.80" font-size="5.4" font-weight="bold" text-anchor="end" fill="#111" stroke="#111" stroke-width="0.25">100</text>
<text x="27.10" y="432.55" font-size="5.4" font-weight="bold" text-anchor="end" fill="#111" stroke="#111" stroke-width="0.25">150</text>
<text x="27.10" y="421.30" font-size="5.4" font-weight="bold" text-anchor="end" fill="#111" stroke="#111" stroke-width="0.25">200</text>
<text x="28.50" y="470.90" font-size="5.4" font-weight="bold" text-anchor="middle" fill="#111" stroke="#111" stroke-width="0.25">0</text>
<text x="45.25" y="470.90" font-size="5.4" font-weight="bold" text-anchor="middle" fill="#111" stroke="#111" stroke-width="0.25">200</text>
<text x="62.00" y="470.90" font-size="5.4" font-weight="bold" text-anchor="middle" fill="#111" stroke="#111" stroke-width="0.25">400</text>
<text x="78.75" y="470.90" font-size="5.4" font-weight="bold" text-anchor="middle" fill="#111" stroke="#111" stroke-width="0.25">600</text>
<text x="95.50" y="470.90" font-size="5.4" font-weight="bold" text-anchor="middle" fill="#111" stroke="#111" stroke-width="0.25">800</text>
<polyline points="113.50,463.90 118.85,463.90 119.11,463.90 119.75,443.93 120.40,437.75 121.05,435.68 121.69,434.84 122.34,434.37 122.99,434.03 123.63,433.74 124.28,433.47 124.93,433.22 125.58,432.98 126.22,432.75 126.87,432.53 127.52,432.31 128.16,432.11 128.81,431.90 129.46,431.71 130.10,431.51 130.75,431.33 131.40,431.14 132.04,430.96 132.69,430.79 133.34,430.61 133.98,430.44 134.63,430.28 135.28,430.11 135.93,429.95 136.57,429.79 137.22,429.63 137.87,429.48 138.51,429.33 139.16,429.18 139.81,429.03 140.45,428.88 141.10,428.74 141.75,428.59 142.39,428.45 143.04,428.31 143.69,428.17 144.33,428.04 144.98,427.90 145.63,433.10 146.28,436.93 146.92,439.82 147.57,442.07 148.22,443.88 148.86,445.38 149.51,446.64 150.16,447.74 150.80,448.71 151.45,449.58 152.10,450.37 152.74,451.09 153.39,451.75 154.04,452.37 154.68,452.93 155.33,453.46 155.98,453.95 156.62,454.41 157.27,454.83 157.92,455.23 158.57,455.60 159.21,455.94 159.86,456.27 160.51,456.57 161.15,456.85 161.80,457.11 162.45,457.36 163.09,457.59 163.74,457.80 164.39,458.00 165.03,458.19 165.68,458.36 166.33,458.52 166.97,458.68 167.62,458.82 168.27,458.95 168.92,459.07 169.56,459.19 170.21,459.30 170.86,459.40" fill="none" stroke="#333" stroke-width="0.8" stroke-linejoin="round"/>
<polyline points="113.50,463.90 118.85,463.90 119.11,463.90 119.75,448.10 120.40,443.22 121.05,441.59 121.69,440.93 122.34,440.57 122.99,440.30 123.63,440.08 124.28,439.87 124.93,439.68 125.58,439.49 126.22,439.31 126.87,439.14 127.52,438.97 128.16,438.81 128.81,438.65 129.46,438.50 130.10,438.35 130.75,438.21 131.40,438.06 132.04,437.92 132.69,437.79 133.34,437.65 133.98,437.52 134.63,437.39 135.28,437.26 135.93,437.14 136.57,437.02 137.22,436.89 137.87,436.77 138.51,436.66 139.16,436.54 139.81,436.42 140.45,436.31 141.10,436.20 141.75,436.09 142.39,435.98 143.04,435.87 143.69,435.76 144.33,435.66 144.98,435.55 145.63,439.60 146.28,442.58 146.92,444.83 147.57,446.58 148.22,447.99 148.86,449.16 149.51,450.14 150.16,451.00 150.80,451.75 151.45,452.43 152.10,453.05 152.74,453.61 153.39,454.12 154.04,454.60 154.68,455.04 155.33,455.45 155.98,455.83 156.62,456.19 157.27,456.52 157.92,456.83 158.57,457.11 159.21,457.38 159.86,457.63 160.51,457.87 161.15,458.09 161.80,458.29 162.45,458.48 163.09,458.66 163.74,458.83 164.39,458.98 165.03,459.13 165.68,459.27 166.33,459.39 166.97,459.51 167.62,459.62 168.27,459.73 168.92,459.82 169.56,459.91 170.21,460.00 170.86,460.07" fill="none" stroke="#333" stroke-width="0.8" stroke-linejoin="round"/>
<line x1="113.50" y1="418.00" x2="113.50" y2="465.00" stroke="#555" stroke-width="1" stroke-linecap="butt"/>
<line x1="113.00" y1="464.50" x2="184.50" y2="464.50" stroke="#555" stroke-width="1" stroke-linecap="butt"/>
<text x="112.10" y="466.30" font-size="5.4" font-weight="bold" text-anchor="end" fill="#111" stroke="#111" stroke-width="0.25">0</text>
<text x="112.10" y="455.05" font-size="5.4" font-weight="bold" text-anchor="end" fill="#111" stroke="#111" stroke-width="0.25">50</text>
<text x="112.10" y="443.80" font-size="5.4" font-weight="bold" text-anchor="end" fill="#111" stroke="#111" stroke-width="0.25">100</text>
<text x="112.10" y="432.55" font-size="5.4" font-weight="bold" text-anchor="end" fill="#111" stroke="#111" stroke-width="0.25">150</text>
<text x="112.10" y="421.30" font-size="5.4" font-weight="bold" text-anchor="end" fill="#111" stroke="#111" stroke-width="0.25">200</text>
<text x="113.50" y="470.90" font-size="5.4" font-weight="bold" text-anchor="middle" fill="#111" stroke="#111" stroke-width="0.25">0</text>
<text x="130.75" y="470.90" font-size="5.4" font-weight="bold" text-anchor="middle" fill="#111" stroke="#111" stroke-width="0.25">200</text>
<text x="148.00" y="470.90" font-size="5.4" font-weight="bold" text-anchor="middle" fill="#111" stroke="#111" stroke-width="0.25">400</text>
<text x="165.25" y="470.90" font-size="5.4" font-weight="bold" text-anchor="middle" fill="#111" stroke="#111" stroke-width="0.25">600</text>
<text x="182.50" y="470.90" font-size="5.4" font-weight="bold" text-anchor="middle" fill="#111" stroke="#111" stroke-width="0.25">800</text>
<polyline points="210.50,463.90 215.85,463.90 216.11,463.90 216.75,453.53 217.40,450.27 218.05,449.16 218.69,448.70 219.34,448.43 219.99,448.23 220.63,448.05 221.28,447.89 221.93,447.74 222.57,447.60 223.22,447.46 223.87,447.33 224.52,447.20 225.16,447.07 225.81,446.95 226.46,446.83 227.10,446.72 227.75,446.61 228.40,446.50 229.04,446.39 229.69,446.28 230.34,446.18 230.98,446.08 231.63,445.98 232.28,445.88 232.93,445.78 233.57,445.68 234.22,445.59 234.87,445.50 235.51,445.41 236.16,445.32 236.81,445.23 237.45,445.14 238.10,445.05 238.75,444.97 239.39,444.88 240.04,444.80 240.69,444.71 241.33,444.63 241.98,444.55 242.63,449.33 243.28,452.87 243.92,455.50 244.57,457.44 245.22,458.88 245.86,459.95 246.51,460.74 247.16,461.33 247.80,461.76 248.45,462.08 249.10,462.32 249.74,462.50 250.39,462.63 251.04,462.72 251.68,462.80 252.33,462.85 252.98,462.89 253.62,462.92 254.27,462.94 254.92,462.95 255.57,462.97 256.21,462.98 256.86,462.98 257.51,462.99 258.15,462.99 258.80,462.99 259.45,462.99 260.09,463.00 260.74,463.00 261.39,463.00 262.03,463.00 262.68,463.00 263.33,463.00 263.98,463.00 264.62,463.00 265.27,463.00 265.92,463.00 266.56,463.00 267.21,463.00 267.86,463.00" fill="none" stroke="#333" stroke-width="0.8" stroke-linejoin="round"/>
<polyline points="210.50,463.90 215.85,463.90 216.11,463.90 216.75,455.47 217.40,452.79 218.05,451.85 218.69,451.43 219.34,451.19 219.99,451.00 220.63,450.83 221.28,450.68 221.93,450.54 222.57,450.40 223.22,450.26 223.87,450.14 224.52,450.01 225.16,449.89 225.81,449.78 226.46,449.66 227.10,449.55 227.75,449.44 228.40,449.34 229.04,449.24 229.69,449.13 230.34,449.03 230.98,448.94 231.63,448.84 232.28,448.75 232.93,448.65 233.57,448.56 234.22,448.47 234.87,448.38 235.51,448.30 236.16,448.21 236.81,448.12 237.45,448.04 238.10,447.96 238.75,447.87 239.39,447.79 240.04,447.71 240.69,447.63 241.33,447.55 241.98,447.47 242.63,451.56 243.28,454.58 243.92,456.82 244.57,458.48 245.22,459.71 245.86,460.62 246.51,461.30 247.16,461.80 247.80,462.17 248.45,462.44 249.10,462.64 249.74,462.79 250.39,462.91 251.04,462.99 251.68,463.05 252.33,463.10 252.98,463.13 253.62,463.15 254.27,463.17 254.92,463.19 255.57,463.20 256.21,463.20 256.86,463.21 257.51,463.21 258.15,463.22 258.80,463.22 259.45,463.22 260.09,463.22 260.74,463.22 261.39,463.22 262.03,463.22 262.68,463.22 263.33,463.22 263.98,463.22 264.62,463.22 265.27,463.22 265.92,463.22 266.56,463.22 267.21,463.22 267.86,463.22" fill="none" stroke="#333" stroke-width="0.8" stroke-linejoin="round"/>
<polyline points="210.50,463.90 215.85,463.90 216.11,463.90 216.75,458.80 217.40,457.16 218.05,456.57 218.69,456.30 219.34,456.13 219.99,456.00 220.63,455.89 221.28,455.78 221.93,455.68 222.57,455.58 223.22,455.49 223.87,455.40 224.52,455.32 225.16,455.23 225.81,455.15 226.46,455.07 227.10,455.00 227.75,454.92 228.40,454.85 229.04,454.77 229.69,454.70 230.34,454.64 230.98,454.57 231.63,454.50 232.28,454.43 232.93,454.37 233.57,454.31 234.22,454.24 234.87,454.18 235.51,454.12 236.16,454.06 236.81,454.00 237.45,453.94 238.10,453.88 238.75,453.83 239.39,453.77 240.04,453.71 240.69,453.66 241.33,453.60 241.98,453.55 242.63,456.12 243.28,458.02 243.92,459.42 244.57,460.47 245.22,461.24 245.86,461.81 246.51,462.24 247.16,462.55 247.80,462.78 248.45,462.96 249.10,463.08 249.74,463.18 250.39,463.25 251.04,463.30 251.68,463.34 252.33,463.37 252.98,463.39 253.62,463.41 254.27,463.42 254.92,463.43 255.57,463.43 256.21,463.44 256.86,463.44 257.51,463.44 258.15,463.44 258.80,463.45 259.45,463.45 260.09,463.45 260.74,463.45 261.39,463.45 262.03,463.45 262.68,463.45 263.33,463.45 263.98,463.45 264.62,463.45 265.27,463.45 265.92,463.45 266.56,463.45 267.21,463.45 267.86,463.45" fill="none" stroke="#333" stroke-width="0.8" stroke-linejoin="round"/>
<line x1="210.50" y1="418.00" x2="210.50" y2="465.00" stroke="#555" stroke-width="1" stroke-linecap="butt"/>
<line x1="210.00" y1="464.50" x2="281.50" y2="464.50" stroke="#555" stroke-width="1" stroke-linecap="butt"/>
<text x="209.10" y="466.30" font-size="5.4" font-weight="bold" text-anchor="end" fill="#111" stroke="#111" stroke-width="0.25">0</text>
<text x="209.10" y="455.05" font-size="5.4" font-weight="bold" text-anchor="end" fill="#111" stroke="#111" stroke-width="0.25">50</text>
<text x="209.10" y="443.80" font-size="5.4" font-weight="bold" text-anchor="end" fill="#111" stroke="#111" stroke-width="0.25">100</text>
<text x="209.10" y="432.55" font-size="5.4" font-weight="bold" text-anchor="end" fill="#111" stroke="#111" stroke-width="0.25">150</text>
<text x="209.10" y="421.30" font-size="5.4" font-weight="bold" text-anchor="end" fill="#111" stroke="#111" stroke-width="0.25">200</text>
<text x="210.50" y="470.90" font-size="5.4" font-weight="bold" text-anchor="middle" fill="#111" stroke="#111" stroke-width="0.25">0</text>
<text x="227.75" y="470.90" font-size="5.4" font-weight="bold" text-anchor="middle" fill="#111" stroke="#111" stroke-width="0.25">200</text>
<text x="245.00" y="470.90" font-size="5.4" font-weight="bold" text-anchor="middle" fill="#111" stroke="#111" stroke-width="0.25">400</text>
<text x="262.25" y="470.90" font-size="5.4" font-weight="bold" text-anchor="middle" fill="#111" stroke="#111" stroke-width="0.25">600</text>
<text x="279.50" y="470.90" font-size="5.4" font-weight="bold" text-anchor="middle" fill="#111" stroke="#111" stroke-width="0.25">800</text>
<polyline points="28.50,528.90 33.69,528.90 33.94,526.20 34.57,526.08 35.20,526.00 35.83,525.92 36.46,525.84 37.08,525.77 37.71,525.71 38.34,525.64 38.97,525.58 39.60,525.52 40.23,525.46 40.85,525.40 41.48,525.34 42.11,525.28 42.74,525.23 43.37,525.17 43.99,525.12 44.62,525.07 45.25,525.01 45.88,524.96 46.51,524.91 47.13,524.86 47.76,524.81 48.39,524.75 49.02,524.70 49.65,524.66 50.28,524.61 50.90,524.56 51.53,524.51 52.16,524.46 52.79,524.41 53.42,524.37 54.04,524.32 54.67,524.27 55.30,524.22 55.93,524.18 56.56,524.13 57.18,524.09 57.81,524.04 58.44,524.00 59.07,523.95 59.24,528.67 59.70,528.67 60.33,528.67 60.95,528.67 61.58,528.67 62.21,528.67 62.84,528.67 63.47,528.67 64.09,528.67 64.72,528.67 65.35,528.67 65.98,528.67 66.61,528.67 67.23,528.67 67.86,528.67 68.49,528.67 69.12,528.67 69.75,528.67 70.38,528.67 71.00,528.67 71.63,528.67 72.26,528.67 72.89,528.67 73.52,528.67 74.14,528.67 74.77,528.67 75.40,528.67 76.03,528.67 76.66,528.67 77.28,528.67 77.91,528.67 78.54,528.67 79.17,528.67 79.80,528.67 80.43,528.67 81.05,528.67 81.68,528.67 82.31,528.67 82.94,528.67 83.57,528.67 84.19,528.67" fill="none" stroke="#222" stroke-width="0.8" stroke-linejoin="round"/>
<polyline points="28.50,528.90 33.69,528.90 33.94,526.42 34.57,526.31 35.20,526.22 35.83,526.14 36.46,526.07 37.08,526.00 37.71,525.93 38.34,525.87 38.97,525.80 39.60,525.74 40.23,525.68 40.85,525.62 41.48,525.57 42.11,525.51 42.74,525.45 43.37,525.40 43.99,525.34 44.62,525.29 45.25,525.24 45.88,525.18 46.51,525.13 47.13,525.08 47.76,525.03 48.39,524.98 49.02,524.93 49.65,524.88 50.28,524.83 50.90,524.78 51.53,524.73 52.16,524.69 52.79,524.64 53.42,524.59 54.04,524.54 54.67,524.50 55.30,524.45 55.93,524.40 56.56,524.36 57.18,524.31 57.81,524.27 58.44,524.22 59.07,524.17 59.24,528.67 59.70,528.67 60.33,528.67 60.95,528.67 61.58,528.67 62.21,528.67 62.84,528.67 63.47,528.67 64.09,528.67 64.72,528.67 65.35,528.67 65.98,528.67 66.61,528.67 67.23,528.67 67.86,528.67 68.49,528.67 69.12,528.67 69.75,528.67 70.38,528.67 71.00,528.67 71.63,528.67 72.26,528.67 72.89,528.67 73.52,528.67 74.14,528.67 74.77,528.67 75.40,528.67 76.03,528.67 76.66,528.67 77.28,528.67 77.91,528.67 78.54,528.67 79.17,528.67 79.80,528.67 80.43,528.67 81.05,528.67 81.68,528.67 82.31,528.67 82.94,528.67 83.57,528.67 84.19,528.67" fill="none" stroke="#222" stroke-width="0.8" stroke-linejoin="round"/>
<line x1="28.50" y1="483.00" x2="28.50" y2="530.00" stroke="#555" stroke-width="1" stroke-linecap="butt"/>
<line x1="28.00" y1="529.50" x2="97.50" y2="529.50" stroke="#555" stroke-width="1" stroke-linecap="butt"/>
<text x="27.10" y="531.30" font-size="5.4" font-weight="bold" text-anchor="end" fill="#111" stroke="#111" stroke-width="0.25">0</text>
<text x="27.10" y="520.05" font-size="5.4" font-weight="bold" text-anchor="end" fill="#111" stroke="#111" stroke-width="0.25">50</text>
<text x="27.10" y="508.80" font-size="5.4" font-weight="bold" text-anchor="end" fill="#111" stroke="#111" stroke-width="0.25">100</text>
<text x="27.10" y="497.55" font-size="5.4" font-weight="bold" text-anchor="end" fill="#111" stroke="#111" stroke-width="0.25">150</text>
<text x="27.10" y="486.30" font-size="5.4" font-weight="bold" text-anchor="end" fill="#111" stroke="#111" stroke-width="0.25">200</text>
<text x="28.50" y="535.90" font-size="5.4" font-weight="bold" text-anchor="middle" fill="#111" stroke="#111" stroke-width="0.25">0</text>
<text x="45.25" y="535.90" font-size="5.4" font-weight="bold" text-anchor="middle" fill="#111" stroke="#111" stroke-width="0.25">200</text>
<text x="62.00" y="535.90" font-size="5.4" font-weight="bold" text-anchor="middle" fill="#111" stroke="#111" stroke-width="0.25">400</text>
<text x="78.75" y="535.90" font-size="5.4" font-weight="bold" text-anchor="middle" fill="#111" stroke="#111" stroke-width="0.25">600</text>
<text x="95.50" y="535.90" font-size="5.4" font-weight="bold" text-anchor="middle" fill="#111" stroke="#111" stroke-width="0.25">800</text>
<polyline points="113.50,528.90 118.85,528.90 119.11,528.00 119.75,527.98 120.40,527.96 121.05,527.94 121.69,527.93 122.34,527.91 122.99,527.90 123.63,527.89 124.28,527.88 124.93,527.86 125.58,527.85 126.22,527.84 126.87,527.83 127.52,527.82 128.16,527.81 128.81,527.79 129.46,527.78 130.10,527.77 130.75,527.76 131.40,527.75 132.04,527.74 132.69,527.73 133.34,527.72 133.98,527.71 134.63,527.70 135.28,527.69 135.93,527.68 136.57,527.67 137.22,527.66 137.87,527.65 138.51,527.64 139.16,527.63 139.81,527.62 140.45,527.61 141.10,527.60 141.75,527.60 142.39,527.59 143.04,527.58 143.69,527.57 144.33,527.56 144.98,527.55 145.15,528.79 145.63,528.79 146.28,528.79 146.92,528.79 147.57,528.79 148.22,528.79 148.86,528.79 149.51,528.79 150.16,528.79 150.80,528.79 151.45,528.79 152.10,528.79 152.74,528.79 153.39,528.79 154.04,528.79 154.68,528.79 155.33,528.79 155.98,528.79 156.62,528.79 157.27,528.79 157.92,528.79 158.57,528.79 159.21,528.79 159.86,528.79 160.51,528.79 161.15,528.79 161.80,528.79 162.45,528.79 163.09,528.79 163.74,528.79 164.39,528.79 165.03,528.79 165.68,528.79 166.33,528.79 166.97,528.79 167.62,528.79 168.27,528.79 168.92,528.79 169.56,528.79 170.21,528.79 170.86,528.79" fill="none" stroke="#333" stroke-width="0.8" stroke-linejoin="round"/>
<polyline points="113.50,528.90 118.85,528.90 119.11,528.23 119.75,528.20 120.40,528.18 121.05,528.17 121.69,528.15 122.34,528.14 122.99,528.13 123.63,528.11 124.28,528.10 124.93,528.09 125.58,528.08 126.22,528.06 126.87,528.05 127.52,528.04 128.16,528.03 128.81,528.02 129.46,528.01 130.10,528.00 130.75,527.99 131.40,527.98 132.04,527.97 132.69,527.96 133.34,527.95 133.98,527.94 134.63,527.93 135.28,527.92 135.93,527.91 136.57,527.90 137.22,527.89 137.87,527.88 138.51,527.87 139.16,527.86 139.81,527.85 140.45,527.84 141.10,527.83 141.75,527.82 142.39,527.81 143.04,527.80 143.69,527.79 144.33,527.78 144.98,527.77 145.15,528.79 145.63,528.79 146.28,528.79 146.92,528.79 147.57,528.79 148.22,528.79 148.86,528.79 149.51,528.79 150.16,528.79 150.80,528.79 151.45,528.79 152.10,528.79 152.74,528.79 153.39,528.79 154.04,528.79 154.68,528.79 155.33,528.79 155.98,528.79 156.62,528.79 157.27,528.79 157.92,528.79 158.57,528.79 159.21,528.79 159.86,528.79 160.51,528.79 161.15,528.79 161.80,528.79 162.45,528.79 163.09,528.79 163.74,528.79 164.39,528.79 165.03,528.79 165.68,528.79 166.33,528.79 166.97,528.79 167.62,528.79 168.27,528.79 168.92,528.79 169.56,528.79 170.21,528.79 170.86,528.79" fill="none" stroke="#333" stroke-width="0.8" stroke-linejoin="round"/>
<line x1="113.50" y1="483.00" x2="113.50" y2="530.00" stroke="#555" stroke-width="1" stroke-linecap="butt"/>
<line x1="113.00" y1="529.50" x2="184.50" y2="529.50" stroke="#555" stroke-width="1" stroke-linecap="butt"/>
<text x="112.10" y="531.30" font-size="5.4" font-weight="bold" text-anchor="end" fill="#111" stroke="#111" stroke-width="0.25">0</text>
<text x="112.10" y="520.05" font-size="5.4" font-weight="bold" text-anchor="end" fill="#111" stroke="#111" stroke-width="0.25">50</text>
<text x="112.10" y="508.80" font-size="5.4" font-weight="bold" text-anchor="end" fill="#111" stroke="#111" stroke-width="0.25">100</text>
<text x="112.10" y="497.55" font-size="5.4" font-weight="bold" text-anchor="end" fill="#111" stroke="#111" stroke-width="0.25">150</text>
<text x="112.10" y="486.30" font-size="5.4" font-weight="bold" text-anchor="end" fill="#111" stroke="#111" stroke-width="0.25">200</text>
<text x="113.50" y="535.90" font-size="5.4" font-weight="bold" text-anchor="middle" fill="#111" stroke="#111" stroke-width="0.25">0</text>
<text x="130.75" y="535.90" font-size="5.4" font-weight="bold" text-anchor="middle" fill="#111" stroke="#111" stroke-width="0.25">200</text>
<text x="148.00" y="535.90" font-size="5.4" font-weight="bold" text-anchor="middle" fill="#111" stroke="#111" stroke-width="0.25">400</text>
<text x="165.25" y="535.90" font-size="5.4" font-weight="bold" text-anchor="middle" fill="#111" stroke="#111" stroke-width="0.25">600</text>
<text x="182.50" y="535.90" font-size="5.4" font-weight="bold" text-anchor="middle" fill="#111" stroke="#111" stroke-width="0.25">800</text>
<polyline points="210.50,528.90 215.85,528.90 216.11,527.32 216.75,527.28 217.40,527.24 218.05,527.21 218.69,527.18 219.34,527.15 219.99,527.13 220.63,527.10 221.28,527.08 221.93,527.05 222.57,527.03 223.22,527.00 223.87,526.98 224.52,526.96 225.16,526.94 225.81,526.91 226.46,526.89 227.10,526.87 227.75,526.85 228.40,526.83 229.04,526.81 229.69,526.79 230.34,526.77 230.98,526.75 231.63,526.73 232.28,526.71 232.93,526.69 233.57,526.67 234.22,526.65 234.87,526.63 235.51,526.61 236.16,526.59 236.81,526.57 237.45,526.55 238.10,526.53 238.75,526.52 239.39,526.50 240.04,526.48 240.69,526.46 241.33,526.44 241.98,526.42 242.15,528.45 242.63,528.45 243.28,528.46 243.92,528.46 244.57,528.46 245.22,528.46 245.86,528.47 246.51,528.47 247.16,528.47 247.80,528.48 248.45,528.48 249.10,528.48 249.74,528.48 250.39,528.49 251.04,528.49 251.68,528.49 252.33,528.50 252.98,528.50 253.62,528.50 254.27,528.50 254.92,528.51 255.57,528.51 256.21,528.51 256.86,528.51 257.51,528.52 258.15,528.52 258.80,528.52 259.45,528.53 260.09,528.53 260.74,528.53 261.39,528.53 262.03,528.54 262.68,528.54 263.33,528.54 263.98,528.55 264.62,528.55 265.27,528.55 265.92,528.55 266.56,528.56 267.21,528.56 267.86,528.56" fill="none" stroke="#222" stroke-width="0.8" stroke-linejoin="round"/>
<polyline points="210.50,528.90 215.85,528.90 216.11,527.55 216.75,527.50 217.40,527.47 218.05,527.44 218.69,527.41 219.34,527.38 219.99,527.35 220.63,527.33 221.28,527.30 221.93,527.28 222.57,527.25 223.22,527.23 223.87,527.21 224.52,527.18 225.16,527.16 225.81,527.14 226.46,527.12 227.10,527.10 227.75,527.07 228.40,527.05 229.04,527.03 229.69,527.01 230.34,526.99 230.98,526.97 231.63,526.95 232.28,526.93 232.93,526.91 233.57,526.89 234.22,526.87 234.87,526.85 235.51,526.84 236.16,526.82 236.81,526.80 237.45,526.78 238.10,526.76 238.75,526.74 239.39,526.72 240.04,526.70 240.69,526.69 241.33,526.67 241.98,526.65 242.15,528.45 242.63,528.45 243.28,528.46 243.92,528.46 244.57,528.46 245.22,528.46 245.86,528.47 246.51,528.47 247.16,528.47 247.80,528.48 248.45,528.48 249.10,528.48 249.74,528.48 250.39,528.49 251.04,528.49 251.68,528.49 252.33,528.50 252.98,528.50 253.62,528.50 254.27,528.50 254.92,528.51 255.57,528.51 256.21,528.51 256.86,528.51 257.51,528.52 258.15,528.52 258.80,528.52 259.45,528.53 260.09,528.53 260.74,528.53 261.39,528.53 262.03,528.54 262.68,528.54 263.33,528.54 263.98,528.55 264.62,528.55 265.27,528.55 265.92,528.55 266.56,528.56 267.21,528.56 267.86,528.56" fill="none" stroke="#222" stroke-width="0.8" stroke-linejoin="round"/>
<line x1="210.50" y1="483.00" x2="210.50" y2="530.00" stroke="#555" stroke-width="1" stroke-linecap="butt"/>
<line x1="210.00" y1="529.50" x2="281.50" y2="529.50" stroke="#555" stroke-width="1" stroke-linecap="butt"/>
<text x="209.10" y="531.30" font-size="5.4" font-weight="bold" text-anchor="end" fill="#111" stroke="#111" stroke-width="0.25">0</text>
<text x="209.10" y="520.05" font-size="5.4" font-weight="bold" text-anchor="end" fill="#111" stroke="#111" stroke-width="0.25">50</text>
<text x="209.10" y="508.80" font-size="5.4" font-weight="bold" text-anchor="end" fill="#111" stroke="#111" stroke-width="0.25">100</text>
<text x="209.10" y="497.55" font-size="5.4" font-weight="bold" text-anchor="end" fill="#111" stroke="#111" stroke-width="0.25">150</text>
<text x="209.10" y="486.30" font-size="5.4" font-weight="bold" text-anchor="end" fill="#111" stroke="#111" stroke-width="0.25">200</text>
<text x="210.50" y="535.90" font-size="5.4" font-weight="bold" text-anchor="middle" fill="#111" stroke="#111" stroke-width="0.25">0</text>
<text x="227.75" y="535.90" font-size="5.4" font-weight="bold" text-anchor="middle" fill="#111" stroke="#111" stroke-width="0.25">200</text>
<text x="245.00" y="535.90" font-size="5.4" font-weight="bold" text-anchor="middle" fill="#111" stroke="#111" stroke-width="0.25">400</text>
<text x="262.25" y="535.90" font-size="5.4" font-weight="bold" text-anchor="middle" fill="#111" stroke="#111" stroke-width="0.25">600</text>
<text x="279.50" y="535.90" font-size="5.4" font-weight="bold" text-anchor="middle" fill="#111" stroke="#111" stroke-width="0.25">800</text>
<polyline points="28.50,589.90 33.69,589.90 33.94,586.98 34.57,586.59 35.20,586.30 35.83,586.04 36.46,585.80 37.08,585.57 37.71,585.35 38.34,585.13 38.97,584.93 39.60,584.72 40.23,584.53 40.85,584.33 41.48,584.14 42.11,583.95 42.74,583.77 43.37,583.59 43.99,583.41 44.62,583.23 45.25,583.06 45.88,582.88 46.51,582.71 47.13,582.54 47.76,582.37 48.39,582.21 49.02,582.04 49.65,581.88 50.28,581.71 50.90,581.55 51.53,581.39 52.16,581.23 52.79,581.08 53.42,580.92 54.04,580.76 54.67,580.61 55.30,580.46 55.93,580.30 56.56,580.15 57.18,580.00 57.81,579.85 58.44,579.70 59.07,579.55 59.24,584.27 59.70,584.30 60.33,584.33 60.95,584.36 61.58,584.39 62.21,584.42 62.84,584.44 63.47,584.47 64.09,584.50 64.72,584.53 65.35,584.56 65.98,584.58 66.61,584.61 67.23,584.64 67.86,584.67 68.49,584.70 69.12,584.73 69.75,584.75 70.38,584.78 71.00,584.81 71.63,584.84 72.26,584.87 72.89,584.89 73.52,584.92 74.14,584.95 74.77,584.98 75.40,585.01 76.03,585.03 76.66,585.06 77.28,585.09 77.91,585.12 78.54,585.15 79.17,585.17 79.80,585.20 80.43,585.23 81.05,585.26 81.68,585.29 82.31,585.32 82.94,585.34 83.57,585.37 84.19,585.40" fill="none" stroke="#333" stroke-width="0.8" stroke-linejoin="round"/>
<polyline points="28.50,589.90 33.69,589.90 33.94,587.20 34.57,586.84 35.20,586.57 35.83,586.32 36.46,586.09 37.08,585.88 37.71,585.67 38.34,585.47 38.97,585.28 39.60,585.09 40.23,584.90 40.85,584.72 41.48,584.54 42.11,584.36 42.74,584.19 43.37,584.02 43.99,583.85 44.62,583.68 45.25,583.52 45.88,583.35 46.51,583.19 47.13,583.03 47.76,582.88 48.39,582.72 49.02,582.56 49.65,582.41 50.28,582.26 50.90,582.11 51.53,581.96 52.16,581.81 52.79,581.66 53.42,581.51 54.04,581.37 54.67,581.22 55.30,581.08 55.93,580.93 56.56,580.79 57.18,580.65 57.81,580.51 58.44,580.36 59.07,580.23 59.24,585.85 59.70,585.88 60.33,585.91 60.95,585.93 61.58,585.96 62.21,585.99 62.84,586.02 63.47,586.05 64.09,586.07 64.72,586.10 65.35,586.13 65.98,586.16 66.61,586.19 67.23,586.22 67.86,586.24 68.49,586.27 69.12,586.30 69.75,586.33 70.38,586.36 71.00,586.38 71.63,586.41 72.26,586.44 72.89,586.47 73.52,586.50 74.14,586.52 74.77,586.55 75.40,586.58 76.03,586.61 76.66,586.64 77.28,586.67 77.91,586.69 78.54,586.72 79.17,586.75 79.80,586.78 80.43,586.81 81.05,586.83 81.68,586.86 82.31,586.89 82.94,586.92 83.57,586.95 84.19,586.98" fill="none" stroke="#333" stroke-width="0.8" stroke-linejoin="round"/>
<line x1="28.50" y1="544.00" x2="28.50" y2="591.00" stroke="#555" stroke-width="1" stroke-linecap="butt"/>
<line x1="28.00" y1="590.50" x2="97.50" y2="590.50" stroke="#555" stroke-width="1" stroke-linecap="butt"/>
<text x="27.10" y="592.30" font-size="5.4" font-weight="bold" text-anchor="end" fill="#111" stroke="#111" stroke-width="0.25">0</text>
<text x="27.10" y="581.05" font-size="5.4" font-weight="bold" text-anchor="end" fill="#111" stroke="#111" stroke-width="0.25">50</text>
<text x="27.10" y="569.80" font-size="5.4" font-weight="bold" text-anchor="end" fill="#111" stroke="#111" stroke-width="0.25">100</text>
<text x="27.10" y="558.55" font-size="5.4" font-weight="bold" text-anchor="end" fill="#111" stroke="#111" stroke-width="0.25">150</text>
<text x="27.10" y="547.30" font-size="5.4" font-weight="bold" text-anchor="end" fill="#111" stroke="#111" stroke-width="0.25">200</text>
<text x="28.50" y="596.90" font-size="5.4" font-weight="bold" text-anchor="middle" fill="#111" stroke="#111" stroke-width="0.25">0</text>
<text x="45.25" y="596.90" font-size="5.4" font-weight="bold" text-anchor="middle" fill="#111" stroke="#111" stroke-width="0.25">200</text>
<text x="62.00" y="596.90" font-size="5.4" font-weight="bold" text-anchor="middle" fill="#111" stroke="#111" stroke-width="0.25">400</text>
<text x="78.75" y="596.90" font-size="5.4" font-weight="bold" text-anchor="middle" fill="#111" stroke="#111" stroke-width="0.25">600</text>
<text x="95.50" y="596.90" font-size="5.4" font-weight="bold" text-anchor="middle" fill="#111" stroke="#111" stroke-width="0.25">800</text>
<polyline points="113.50,589.90 118.85,589.90 119.11,586.75 119.75,586.55 120.40,586.40 121.05,586.27 121.69,586.14 122.34,586.03 122.99,585.91 123.63,585.80 124.28,585.69 124.93,585.59 125.58,585.49 126.22,585.39 126.87,585.29 127.52,585.19 128.16,585.10 128.81,585.00 129.46,584.91 130.10,584.82 130.75,584.73 131.40,584.64 132.04,584.55 132.69,584.47 133.34,584.38 133.98,584.29 134.63,584.21 135.28,584.12 135.93,584.04 136.57,583.96 137.22,583.87 137.87,583.79 138.51,583.71 139.16,583.63 139.81,583.55 140.45,583.47 141.10,583.39 141.75,583.31 142.39,583.23 143.04,583.16 143.69,583.08 144.33,583.00 144.98,582.92 145.15,586.98 145.63,586.99 146.28,587.01 146.92,587.03 147.57,587.04 148.22,587.06 148.86,587.08 149.51,587.09 150.16,587.11 150.80,587.13 151.45,587.14 152.10,587.16 152.74,587.18 153.39,587.19 154.04,587.21 154.68,587.23 155.33,587.25 155.98,587.26 156.62,587.28 157.27,587.30 157.92,587.31 158.57,587.33 159.21,587.35 159.86,587.36 160.51,587.38 161.15,587.40 161.80,587.41 162.45,587.43 163.09,587.45 163.74,587.46 164.39,587.48 165.03,587.50 165.68,587.51 166.33,587.53 166.97,587.55 167.62,587.57 168.27,587.58 168.92,587.60 169.56,587.62 170.21,587.63 170.86,587.65" fill="none" stroke="#333" stroke-width="0.8" stroke-linejoin="round"/>
<polyline points="113.50,589.90 118.85,589.90 119.11,587.42 119.75,587.28 120.40,587.18 121.05,587.09 121.69,587.00 122.34,586.91 122.99,586.83 123.63,586.76 124.28,586.68 124.93,586.61 125.58,586.53 126.22,586.46 126.87,586.39 127.52,586.33 128.16,586.26 128.81,586.19 129.46,586.13 130.10,586.06 130.75,586.00 131.40,585.94 132.04,585.87 132.69,585.81 133.34,585.75 133.98,585.69 134.63,585.63 135.28,585.57 135.93,585.51 136.57,585.45 137.22,585.40 137.87,585.34 138.51,585.28 139.16,585.22 139.81,585.17 140.45,585.11 141.10,585.05 141.75,585.00 142.39,584.94 143.04,584.89 143.69,584.83 144.33,584.78 144.98,584.73 145.15,587.88 145.63,587.89 146.28,587.91 146.92,587.93 147.57,587.94 148.22,587.96 148.86,587.98 149.51,587.99 150.16,588.01 150.80,588.03 151.45,588.04 152.10,588.06 152.74,588.08 153.39,588.09 154.04,588.11 154.68,588.13 155.33,588.14 155.98,588.16 156.62,588.18 157.27,588.20 157.92,588.21 158.57,588.23 159.21,588.25 159.86,588.26 160.51,588.28 161.15,588.30 161.80,588.31 162.45,588.33 163.09,588.35 163.74,588.36 164.39,588.38 165.03,588.40 165.68,588.41 166.33,588.43 166.97,588.45 167.62,588.47 168.27,588.48 168.92,588.50 169.56,588.52 170.21,588.53 170.86,588.55" fill="none" stroke="#333" stroke-width="0.8" stroke-linejoin="round"/>
<polyline points="113.50,589.90 118.85,589.90 119.11,587.88 119.75,587.77 120.40,587.69 121.05,587.62 121.69,587.55 122.34,587.49 122.99,587.43 123.63,587.37 124.28,587.32 124.93,587.26 125.58,587.21 126.22,587.15 126.87,587.10 127.52,587.05 128.16,587.00 128.81,586.95 129.46,586.90 130.10,586.85 130.75,586.81 131.40,586.76 132.04,586.71 132.69,586.67 133.34,586.62 133.98,586.57 134.63,586.53 135.28,586.48 135.93,586.44 136.57,586.40 137.22,586.35 137.87,586.31 138.51,586.27 139.16,586.22 139.81,586.18 140.45,586.14 141.10,586.10 141.75,586.06 142.39,586.01 143.04,585.97 143.69,585.93 144.33,585.89 144.98,585.85 145.15,588.55 145.63,588.57 146.28,588.58 146.92,588.60 147.57,588.62 148.22,588.63 148.86,588.65 149.51,588.67 150.16,588.68 150.80,588.70 151.45,588.72 152.10,588.74 152.74,588.75 153.39,588.77 154.04,588.79 154.68,588.80 155.33,588.82 155.98,588.84 156.62,588.85 157.27,588.87 157.92,588.89 158.57,588.90 159.21,588.92 159.86,588.94 160.51,588.95 161.15,588.97 161.80,588.99 162.45,589.01 163.09,589.02 163.74,589.04 164.39,589.06 165.03,589.07 165.68,589.09 166.33,589.11 166.97,589.12 167.62,589.14 168.27,589.16 168.92,589.17 169.56,589.19 170.21,589.21 170.86,589.23" fill="none" stroke="#333" stroke-width="0.8" stroke-linejoin="round"/>
<line x1="113.50" y1="544.00" x2="113.50" y2="591.00" stroke="#555" stroke-width="1" stroke-linecap="butt"/>
<line x1="113.00" y1="590.50" x2="184.50" y2="590.50" stroke="#555" stroke-width="1" stroke-linecap="butt"/>
<text x="112.10" y="592.30" font-size="5.4" font-weight="bold" text-anchor="end" fill="#111" stroke="#111" stroke-width="0.25">0</text>
<text x="112.10" y="581.05" font-size="5.4" font-weight="bold" text-anchor="end" fill="#111" stroke="#111" stroke-width="0.25">50</text>
<text x="112.10" y="569.80" font-size="5.4" font-weight="bold" text-anchor="end" fill="#111" stroke="#111" stroke-width="0.25">100</text>
<text x="112.10" y="558.55" font-size="5.4" font-weight="bold" text-anchor="end" fill="#111" stroke="#111" stroke-width="0.25">150</text>
<text x="112.10" y="547.30" font-size="5.4" font-weight="bold" text-anchor="end" fill="#111" stroke="#111" stroke-width="0.25">200</text>
<text x="113.50" y="596.90" font-size="5.4" font-weight="bold" text-anchor="middle" fill="#111" stroke="#111" stroke-width="0.25">0</text>
<text x="130.75" y="596.90" font-size="5.4" font-weight="bold" text-anchor="middle" fill="#111" stroke="#111" stroke-width="0.25">200</text>
<text x="148.00" y="596.90" font-size="5.4" font-weight="bold" text-anchor="middle" fill="#111" stroke="#111" stroke-width="0.25">400</text>
<text x="165.25" y="596.90" font-size="5.4" font-weight="bold" text-anchor="middle" fill="#111" stroke="#111" stroke-width="0.25">600</text>
<text x="182.50" y="596.90" font-size="5.4" font-weight="bold" text-anchor="middle" fill="#111" stroke="#111" stroke-width="0.25">800</text>
<polyline points="210.50,589.90 215.85,589.90 216.11,588.77 216.75,588.68 217.40,588.61 218.05,588.55 218.69,588.49 219.34,588.43 219.99,588.38 220.63,588.33 221.28,588.28 221.93,588.23 222.57,588.18 223.22,588.13 223.87,588.09 224.52,588.04 225.16,588.00 225.81,587.95 226.46,587.91 227.10,587.87 227.75,587.82 228.40,587.78 229.04,587.74 229.69,587.70 230.34,587.66 230.98,587.62 231.63,587.58 232.28,587.54 232.93,587.50 233.57,587.46 234.22,587.42 234.87,587.38 235.51,587.35 236.16,587.31 236.81,587.27 237.45,587.23 238.10,587.19 238.75,587.16 239.39,587.12 240.04,587.08 240.69,587.05 241.33,587.01 241.98,586.98 242.15,589.00 242.63,589.01 243.28,589.02 243.92,589.03 244.57,589.04 245.22,589.06 245.86,589.07 246.51,589.08 247.16,589.09 247.80,589.10 248.45,589.11 249.10,589.12 249.74,589.13 250.39,589.15 251.04,589.16 251.68,589.17 252.33,589.18 252.98,589.19 253.62,589.20 254.27,589.21 254.92,589.23 255.57,589.24 256.21,589.25 256.86,589.26 257.51,589.27 258.15,589.28 258.80,589.29 259.45,589.30 260.09,589.31 260.74,589.33 261.39,589.34 262.03,589.35 262.68,589.36 263.33,589.37 263.98,589.38 264.62,589.39 265.27,589.40 265.92,589.42 266.56,589.43 267.21,589.44 267.86,589.45" fill="none" stroke="#222" stroke-width="0.8" stroke-linejoin="round"/>
<polyline points="210.50,589.90 215.85,589.90 216.11,589.00 216.75,588.92 217.40,588.86 218.05,588.80 218.69,588.75 219.34,588.70 219.99,588.65 220.63,588.61 221.28,588.57 221.93,588.52 222.57,588.48 223.22,588.44 223.87,588.40 224.52,588.36 225.16,588.32 225.81,588.28 226.46,588.24 227.10,588.21 227.75,588.17 228.40,588.13 229.04,588.10 229.69,588.06 230.34,588.02 230.98,587.99 231.63,587.95 232.28,587.92 232.93,587.88 233.57,587.85 234.22,587.82 234.87,587.78 235.51,587.75 236.16,587.72 236.81,587.68 237.45,587.65 238.10,587.62 238.75,587.58 239.39,587.55 240.04,587.52 240.69,587.49 241.33,587.46 241.98,587.42 242.15,589.23 242.63,589.23 243.28,589.24 243.92,589.25 244.57,589.26 245.22,589.27 245.86,589.28 246.51,589.28 247.16,589.29 247.80,589.30 248.45,589.31 249.10,589.32 249.74,589.33 250.39,589.33 251.04,589.34 251.68,589.35 252.33,589.36 252.98,589.37 253.62,589.38 254.27,589.39 254.92,589.39 255.57,589.40 256.21,589.41 256.86,589.42 257.51,589.43 258.15,589.44 258.80,589.44 259.45,589.45 260.09,589.46 260.74,589.47 261.39,589.48 262.03,589.49 262.68,589.50 263.33,589.50 263.98,589.51 264.62,589.52 265.27,589.53 265.92,589.54 266.56,589.55 267.21,589.55 267.86,589.56" fill="none" stroke="#222" stroke-width="0.8" stroke-linejoin="round"/>
<line x1="210.50" y1="544.00" x2="210.50" y2="591.00" stroke="#555" stroke-width="1" stroke-linecap="butt"/>
<line x1="210.00" y1="590.50" x2="281.50" y2="590.50" stroke="#555" stroke-width="1" stroke-linecap="butt"/>
<text x="209.10" y="592.30" font-size="5.4" font-weight="bold" text-anchor="end" fill="#111" stroke="#111" stroke-width="0.25">0</text>
<text x="209.10" y="581.05" font-size="5.4" font-weight="bold" text-anchor="end" fill="#111" stroke="#111" stroke-width="0.25">50</text>
<text x="209.10" y="569.80" font-size="5.4" font-weight="bold" text-anchor="end" fill="#111" stroke="#111" stroke-width="0.25">100</text>
<text x="209.10" y="558.55" font-size="5.4" font-weight="bold" text-anchor="end" fill="#111" stroke="#111" stroke-width="0.25">150</text>
<text x="209.10" y="547.30" font-size="5.4" font-weight="bold" text-anchor="end" fill="#111" stroke="#111" stroke-width="0.25">200</text>
<text x="210.50" y="596.90" font-size="5.4" font-weight="bold" text-anchor="middle" fill="#111" stroke="#111" stroke-width="0.25">0</text>
<text x="227.75" y="596.90" font-size="5.4" font-weight="bold" text-anchor="middle" fill="#111" stroke="#111" stroke-width="0.25">200</text>
<text x="245.00" y="596.90" font-size="5.4" font-weight="bold" text-anchor="middle" fill="#111" stroke="#111" stroke-width="0.25">400</text>
<text x="262.25" y="596.90" font-size="5.4" font-weight="bold" text-anchor="middle" fill="#111" stroke="#111" stroke-width="0.25">600</text>
<text x="279.50" y="596.90" font-size="5.4" font-weight="bold" text-anchor="middle" fill="#111" stroke="#111" stroke-width="0.25">800</text>
<polyline points="28.50,649.90 33.69,649.90 33.94,649.56 34.57,649.54 35.20,649.52 35.83,649.51 36.46,649.49 37.08,649.48 37.71,649.46 38.34,649.45 38.97,649.44 39.60,649.43 40.23,649.41 40.85,649.40 41.48,649.39 42.11,649.38 42.74,649.37 43.37,649.36 43.99,649.35 44.62,649.34 45.25,649.32 45.88,649.31 46.51,649.30 47.13,649.29 47.76,649.28 48.39,649.27 49.02,649.26 49.65,649.25 50.28,649.24 50.90,649.23 51.53,649.22 52.16,649.21 52.79,649.21 53.42,649.20 54.04,649.19 54.67,649.18 55.30,649.17 55.93,649.16 56.56,649.15 57.18,649.14 57.81,649.13 58.44,649.12 59.07,649.11 59.24,649.45 59.70,649.46 60.33,649.46 60.95,649.47 61.58,649.47 62.21,649.48 62.84,649.48 63.47,649.49 64.09,649.50 64.72,649.50 65.35,649.51 65.98,649.51 66.61,649.52 67.23,649.52 67.86,649.53 68.49,649.53 69.12,649.54 69.75,649.55 70.38,649.55 71.00,649.56 71.63,649.56 72.26,649.57 72.89,649.57 73.52,649.58 74.14,649.58 74.77,649.59 75.40,649.60 76.03,649.60 76.66,649.61 77.28,649.61 77.91,649.62 78.54,649.62 79.17,649.63 79.80,649.64 80.43,649.64 81.05,649.65 81.68,649.65 82.31,649.66 82.94,649.66 83.57,649.67 84.19,649.67" fill="none" stroke="#333" stroke-width="0.8" stroke-linejoin="round"/>
<line x1="28.50" y1="604.00" x2="28.50" y2="651.00" stroke="#555" stroke-width="1" stroke-linecap="butt"/>
<line x1="28.00" y1="650.50" x2="97.50" y2="650.50" stroke="#555" stroke-width="1" stroke-linecap="butt"/>
<text x="27.10" y="652.30" font-size="5.4" font-weight="bold" text-anchor="end" fill="#111" stroke="#111" stroke-width="0.25">0</text>
<text x="27.10" y="641.05" font-size="5.4" font-weight="bold" text-anchor="end" fill="#111" stroke="#111" stroke-width="0.25">50</text>
<text x="27.10" y="629.80" font-size="5.4" font-weight="bold" text-anchor="end" fill="#111" stroke="#111" stroke-width="0.25">100</text>
<text x="27.10" y="618.55" font-size="5.4" font-weight="bold" text-anchor="end" fill="#111" stroke="#111" stroke-width="0.25">150</text>
<text x="27.10" y="607.30" font-size="5.4" font-weight="bold" text-anchor="end" fill="#111" stroke="#111" stroke-width="0.25">200</text>
<text x="28.50" y="656.90" font-size="5.4" font-weight="bold" text-anchor="middle" fill="#111" stroke="#111" stroke-width="0.25">0</text>
<text x="45.25" y="656.90" font-size="5.4" font-weight="bold" text-anchor="middle" fill="#111" stroke="#111" stroke-width="0.25">200</text>
<text x="62.00" y="656.90" font-size="5.4" font-weight="bold" text-anchor="middle" fill="#111" stroke="#111" stroke-width="0.25">400</text>
<text x="78.75" y="656.90" font-size="5.4" font-weight="bold" text-anchor="middle" fill="#111" stroke="#111" stroke-width="0.25">600</text>
<text x="95.50" y="656.90" font-size="5.4" font-weight="bold" text-anchor="middle" fill="#111" stroke="#111" stroke-width="0.25">800</text>
<polyline points="113.50,649.90 118.85,649.90 119.11,649.90 119.75,633.21 120.40,628.01 121.05,626.26 121.69,625.53 122.34,625.12 122.99,624.82 123.63,624.56 124.28,624.32 124.93,624.09 125.58,623.87 126.22,623.67 126.87,623.47 127.52,623.27 128.16,623.09 128.81,622.90 129.46,622.73 130.10,622.55 130.75,622.38 131.40,622.22 132.04,622.06 132.69,621.90 133.34,621.74 133.98,621.59 134.63,621.44 135.28,621.29 135.93,621.14 136.57,621.00 137.22,620.86 137.87,620.72 138.51,620.58 139.16,620.45 139.81,620.32 140.45,620.18 141.10,620.05 141.75,619.92 142.39,619.80 143.04,619.67 143.69,619.55 144.33,619.42 144.98,619.30 145.63,623.72 146.28,626.97 146.92,629.43 147.57,631.35 148.22,632.88 148.86,634.15 149.51,635.23 150.16,636.17 150.80,636.99 151.45,637.73 152.10,638.40 152.74,639.01 153.39,639.58 154.04,640.10 154.68,640.58 155.33,641.03 155.98,641.44 156.62,641.83 157.27,642.19 157.92,642.53 158.57,642.84 159.21,643.14 159.86,643.41 160.51,643.67 161.15,643.91 161.80,644.13 162.45,644.34 163.09,644.53 163.74,644.71 164.39,644.88 165.03,645.04 165.68,645.19 166.33,645.33 166.97,645.46 167.62,645.58 168.27,645.69 168.92,645.80 169.56,645.90 170.21,645.99 170.86,646.07" fill="none" stroke="#222" stroke-width="0.8" stroke-linejoin="round"/>
<polyline points="113.50,649.90 118.85,649.90 119.11,649.90 119.75,636.14 120.40,631.80 121.05,630.30 121.69,629.67 122.34,629.29 122.99,629.01 123.63,628.77 124.28,628.54 124.93,628.32 125.58,628.12 126.22,627.92 126.87,627.74 127.52,627.55 128.16,627.38 128.81,627.20 129.46,627.04 130.10,626.87 130.75,626.71 131.40,626.56 132.04,626.40 132.69,626.25 133.34,626.11 133.98,625.96 134.63,625.82 135.28,625.68 135.93,625.54 136.57,625.41 137.22,625.27 137.87,625.14 138.51,625.01 139.16,624.88 139.81,624.76 140.45,624.63 141.10,624.51 141.75,624.39 142.39,624.27 143.04,624.15 143.69,624.03 144.33,623.92 144.98,623.80 145.63,627.59 146.28,630.38 146.92,632.48 147.57,634.13 148.22,635.44 148.86,636.53 149.51,637.46 150.16,638.26 150.80,638.96 151.45,639.60 152.10,640.17 152.74,640.70 153.39,641.18 154.04,641.63 154.68,642.04 155.33,642.42 155.98,642.78 156.62,643.11 157.27,643.42 157.92,643.71 158.57,643.98 159.21,644.23 159.86,644.47 160.51,644.69 161.15,644.89 161.80,645.08 162.45,645.26 163.09,645.43 163.74,645.58 164.39,645.73 165.03,645.87 165.68,645.99 166.33,646.11 166.97,646.22 167.62,646.33 168.27,646.42 168.92,646.51 169.56,646.60 170.21,646.68 170.86,646.75" fill="none" stroke="#222" stroke-width="0.8" stroke-linejoin="round"/>
<line x1="113.50" y1="604.00" x2="113.50" y2="651.00" stroke="#555" stroke-width="1" stroke-linecap="butt"/>
<line x1="113.00" y1="650.50" x2="184.50" y2="650.50" stroke="#555" stroke-width="1" stroke-linecap="butt"/>
<text x="112.10" y="652.30" font-size="5.4" font-weight="bold" text-anchor="end" fill="#111" stroke="#111" stroke-width="0.25">0</text>
<text x="112.10" y="641.05" font-size="5.4" font-weight="bold" text-anchor="end" fill="#111" stroke="#111" stroke-width="0.25">50</text>
<text x="112.10" y="629.80" font-size="5.4" font-weight="bold" text-anchor="end" fill="#111" stroke="#111" stroke-width="0.25">100</text>
<text x="112.10" y="618.55" font-size="5.4" font-weight="bold" text-anchor="end" fill="#111" stroke="#111" stroke-width="0.25">150</text>
<text x="112.10" y="607.30" font-size="5.4" font-weight="bold" text-anchor="end" fill="#111" stroke="#111" stroke-width="0.25">200</text>
<text x="113.50" y="656.90" font-size="5.4" font-weight="bold" text-anchor="middle" fill="#111" stroke="#111" stroke-width="0.25">0</text>
<text x="130.75" y="656.90" font-size="5.4" font-weight="bold" text-anchor="middle" fill="#111" stroke="#111" stroke-width="0.25">200</text>
<text x="148.00" y="656.90" font-size="5.4" font-weight="bold" text-anchor="middle" fill="#111" stroke="#111" stroke-width="0.25">400</text>
<text x="165.25" y="656.90" font-size="5.4" font-weight="bold" text-anchor="middle" fill="#111" stroke="#111" stroke-width="0.25">600</text>
<text x="182.50" y="656.90" font-size="5.4" font-weight="bold" text-anchor="middle" fill="#111" stroke="#111" stroke-width="0.25">800</text>
<polyline points="210.50,649.90 215.85,649.90 216.11,649.90 216.75,638.09 217.40,634.11 218.05,632.59 218.69,631.84 219.34,631.34 219.99,630.93 220.63,630.57 221.28,630.23 221.93,629.91 222.57,629.61 223.22,629.31 223.87,629.03 224.52,628.75 225.16,628.49 225.81,628.23 226.46,627.98 227.10,627.73 227.75,627.49 228.40,627.26 229.04,627.03 229.69,626.80 230.34,626.58 230.98,626.37 231.63,626.15 232.28,625.94 232.93,625.74 233.57,625.54 234.22,625.34 234.87,625.14 235.51,624.94 236.16,624.75 236.81,624.56 237.45,624.38 238.10,624.19 238.75,624.01 239.39,623.83 240.04,623.65 240.69,623.47 241.33,623.30 241.98,623.12 242.63,626.65 243.28,629.25 243.92,631.21 244.57,632.74 245.22,633.97 245.86,634.98 246.51,635.84 247.16,636.59 247.80,637.25 248.45,637.84 249.10,638.37 249.74,638.86 250.39,639.31 251.04,639.73 251.68,640.11 252.33,640.47 252.98,640.80 253.62,641.11 254.27,641.40 254.92,641.67 255.57,641.92 256.21,642.15 256.86,642.37 257.51,642.58 258.15,642.77 258.80,642.95 259.45,643.11 260.09,643.27 260.74,643.41 261.39,643.55 262.03,643.68 262.68,643.79 263.33,643.91 263.98,644.01 264.62,644.11 265.27,644.20 265.92,644.28 266.56,644.36 267.21,644.43 267.86,644.50" fill="none" stroke="#333" stroke-width="0.8" stroke-linejoin="round"/>
<polyline points="210.50,649.90 215.85,649.90 216.11,649.90 216.75,639.46 217.40,635.93 218.05,634.58 218.69,633.91 219.34,633.46 219.99,633.09 220.63,632.77 221.28,632.46 221.93,632.17 222.57,631.89 223.22,631.63 223.87,631.37 224.52,631.13 225.16,630.89 225.81,630.65 226.46,630.43 227.10,630.21 227.75,629.99 228.40,629.78 229.04,629.57 229.69,629.37 230.34,629.17 230.98,628.97 231.63,628.78 232.28,628.59 232.93,628.41 233.57,628.22 234.22,628.04 234.87,627.87 235.51,627.69 236.16,627.52 236.81,627.35 237.45,627.18 238.10,627.01 238.75,626.85 239.39,626.68 240.04,626.52 240.69,626.36 241.33,626.21 241.98,626.05 242.63,629.36 243.28,631.79 243.92,633.63 244.57,635.06 245.22,636.21 245.86,637.16 246.51,637.97 247.16,638.66 247.80,639.28 248.45,639.83 249.10,640.34 249.74,640.79 250.39,641.21 251.04,641.60 251.68,641.96 252.33,642.30 252.98,642.61 253.62,642.90 254.27,643.17 254.92,643.42 255.57,643.66 256.21,643.88 256.86,644.08 257.51,644.27 258.15,644.45 258.80,644.62 259.45,644.78 260.09,644.92 260.74,645.06 261.39,645.18 262.03,645.30 262.68,645.41 263.33,645.52 263.98,645.61 264.62,645.71 265.27,645.79 265.92,645.87 266.56,645.94 267.21,646.01 267.86,646.07" fill="none" stroke="#333" stroke-width="0.8" stroke-linejoin="round"/>
<polyline points="210.50,649.90 215.85,649.90 216.11,649.90 216.75,641.49 217.40,638.82 218.05,637.89 218.69,637.49 219.34,637.25 219.99,637.07 220.63,636.91 221.28,636.77 221.93,636.63 222.57,636.50 223.22,636.37 223.87,636.25 224.52,636.13 225.16,636.01 225.81,635.90 226.46,635.79 227.10,635.69 227.75,635.58 228.40,635.48 229.04,635.38 229.69,635.29 230.34,635.19 230.98,635.10 231.63,635.01 232.28,634.92 232.93,634.83 233.57,634.74 234.22,634.65 234.87,634.57 235.51,634.48 236.16,634.40 236.81,634.32 237.45,634.24 238.10,634.16 238.75,634.08 239.39,634.00 240.04,633.93 240.69,633.85 241.33,633.77 241.98,633.70 242.63,637.78 243.28,640.81 243.92,643.05 244.57,644.71 245.22,645.94 245.86,646.85 246.51,647.52 247.16,648.02 247.80,648.39 248.45,648.67 249.10,648.87 249.74,649.02 250.39,649.13 251.04,649.21 251.68,649.28 252.33,649.32 252.98,649.35 253.62,649.38 254.27,649.40 254.92,649.41 255.57,649.42 256.21,649.43 256.86,649.43 257.51,649.44 258.15,649.44 258.80,649.44 259.45,649.45 260.09,649.45 260.74,649.45 261.39,649.45 262.03,649.45 262.68,649.45 263.33,649.45 263.98,649.45 264.62,649.45 265.27,649.45 265.92,649.45 266.56,649.45 267.21,649.45 267.86,649.45" fill="none" stroke="#333" stroke-width="0.8" stroke-linejoin="round"/>
<line x1="210.50" y1="604.00" x2="210.50" y2="651.00" stroke="#555" stroke-width="1" stroke-linecap="butt"/>
<line x1="210.00" y1="650.50" x2="281.50" y2="650.50" stroke="#555" stroke-width="1" stroke-linecap="butt"/>
<text x="209.10" y="652.30" font-size="5.4" font-weight="bold" text-anchor="end" fill="#111" stroke="#111" stroke-width="0.25">0</text>
<text x="209.10" y="641.05" font-size="5.4" font-weight="bold" text-anchor="end" fill="#111" stroke="#111" stroke-width="0.25">50</text>
<text x="209.10" y="629.80" font-size="5.4" font-weight="bold" text-anchor="end" fill="#111" stroke="#111" stroke-width="0.25">100</text>
<text x="209.10" y="618.55" font-size="5.4" font-weight="bold" text-anchor="end" fill="#111" stroke="#111" stroke-width="0.25">150</text>
<text x="209.10" y="607.30" font-size="5.4" font-weight="bold" text-anchor="end" fill="#111" stroke="#111" stroke-width="0.25">200</text>
<text x="210.50" y="656.90" font-size="5.4" font-weight="bold" text-anchor="middle" fill="#111" stroke="#111" stroke-width="0.25">0</text>
<text x="227.75" y="656.90" font-size="5.4" font-weight="bold" text-anchor="middle" fill="#111" stroke="#111" stroke-width="0.25">200</text>
<text x="245.00" y="656.90" font-size="5.4" font-weight="bold" text-anchor="middle" fill="#111" stroke="#111" stroke-width="0.25">400</text>
<text x="262.25" y="656.90" font-size="5.4" font-weight="bold" text-anchor="middle" fill="#111" stroke="#111" stroke-width="0.25">600</text>
<text x="279.50" y="656.90" font-size="5.4" font-weight="bold" text-anchor="middle" fill="#111" stroke="#111" stroke-width="0.25">800</text>
<line x1="58.80" y1="420.00" x2="63.80" y2="420.00" stroke="#555" stroke-width="0.8" stroke-linecap="butt"/>
<text x="67.00" y="422.70" font-size="8" font-weight="normal" text-anchor="start" fill="#222" stroke="#222" stroke-width="0.3">RTX m1</text>
<line x1="58.80" y1="427.20" x2="63.80" y2="427.20" stroke="#111" stroke-width="1.1" stroke-dasharray="1.6 1" stroke-linecap="butt"/>
<text x="67.00" y="429.90" font-size="8" font-weight="normal" text-anchor="start" fill="#222" stroke="#222" stroke-width="0.3">OBZ m1</text>
<line x1="151.00" y1="418.80" x2="156.00" y2="418.80" stroke="#555" stroke-width="0.8" stroke-linecap="butt"/>
<text x="158.80" y="421.50" font-size="8" font-weight="normal" text-anchor="start" fill="#222" stroke="#222" stroke-width="0.3">RTX m2a</text>
<line x1="151.00" y1="426.60" x2="156.00" y2="426.60" stroke="#111" stroke-width="1.1" stroke-dasharray="1.6 1" stroke-linecap="butt"/>
<text x="158.80" y="429.30" font-size="8" font-weight="normal" text-anchor="start" fill="#222" stroke="#222" stroke-width="0.3">OBZ m2a</text>
<line x1="151.00" y1="434.40" x2="156.00" y2="434.40" stroke="#555" stroke-width="0.8" stroke-linecap="butt"/>
<text x="158.80" y="437.10" font-size="8" font-weight="normal" text-anchor="start" fill="#222" stroke="#222" stroke-width="0.3">OFA m2a</text>
<line x1="252.50" y1="420.00" x2="257.50" y2="420.00" stroke="#555" stroke-width="0.8" stroke-linecap="butt"/>
<text x="261.30" y="422.70" font-size="8" font-weight="normal" text-anchor="start" fill="#222" stroke="#222" stroke-width="0.3">RTX</text>
<line x1="252.50" y1="427.80" x2="257.50" y2="427.80" stroke="#111" stroke-width="1.1" stroke-dasharray="1.6 1" stroke-linecap="butt"/>
<text x="261.30" y="430.50" font-size="8" font-weight="normal" text-anchor="start" fill="#222" stroke="#222" stroke-width="0.3">OBZ gly</text>
<line x1="252.50" y1="435.40" x2="257.50" y2="435.40" stroke="#111" stroke-width="1.1" stroke-dasharray="0.8 0.6" stroke-linecap="butt"/>
<text x="261.30" y="438.10" font-size="8" font-weight="normal" text-anchor="start" fill="#222" stroke="#222" stroke-width="0.3">OBZ</text>
<line x1="23.70" y1="662.50" x2="283.70" y2="662.50" stroke="#111" stroke-width="1.5" stroke-linecap="butt"/>
<text x="152.00" y="678.30" font-size="12.5" font-weight="bold" text-anchor="middle" fill="#111" stroke="#111" stroke-width="0.3">Time (S)</text>
<text x="292.80" y="397.60" font-size="16.5" font-weight="bold" text-anchor="start" fill="#111" stroke="#111" stroke-width="0.3">C</text>
<line x1="327.30" y1="402.00" x2="327.30" y2="659.50" stroke="#111" stroke-width="1.6" stroke-linecap="butt"/>
<text x="319.20" y="531.00" font-size="12.95" font-weight="bold" text-anchor="middle" fill="#111" stroke="#111" stroke-width="0.3" transform="rotate(-90 319.2 531)">Mean # of PE molecules per cell (x100)</text>
<line x1="357.20" y1="406.20" x2="357.20" y2="511.80" stroke="#111" stroke-width="1.3" stroke-linecap="butt"/>
<line x1="356.60" y1="511.20" x2="515.00" y2="511.20" stroke="#111" stroke-width="1.3" stroke-linecap="butt"/>
<line x1="354.60" y1="511.20" x2="357.20" y2="511.20" stroke="#111" stroke-width="1.1" stroke-linecap="butt"/>
<text x="353.20" y="515.30" font-size="11.5" font-weight="normal" text-anchor="end" fill="#111" stroke="#111" stroke-width="0.3">0</text>
<line x1="354.60" y1="493.78" x2="357.20" y2="493.78" stroke="#111" stroke-width="1.1" stroke-linecap="butt"/>
<text x="353.20" y="497.88" font-size="11.5" font-weight="normal" text-anchor="end" fill="#111" stroke="#111" stroke-width="0.3">50</text>
<line x1="354.60" y1="476.37" x2="357.20" y2="476.37" stroke="#111" stroke-width="1.1" stroke-linecap="butt"/>
<text x="353.20" y="480.47" font-size="11.5" font-weight="normal" text-anchor="end" fill="#111" stroke="#111" stroke-width="0.3">100</text>
<line x1="354.60" y1="458.95" x2="357.20" y2="458.95" stroke="#111" stroke-width="1.1" stroke-linecap="butt"/>
<text x="353.20" y="463.05" font-size="11.5" font-weight="normal" text-anchor="end" fill="#111" stroke="#111" stroke-width="0.3">150</text>
<line x1="354.60" y1="441.53" x2="357.20" y2="441.53" stroke="#111" stroke-width="1.1" stroke-linecap="butt"/>
<text x="353.20" y="445.63" font-size="11.5" font-weight="normal" text-anchor="end" fill="#111" stroke="#111" stroke-width="0.3">200</text>
<line x1="354.60" y1="424.12" x2="357.20" y2="424.12" stroke="#111" stroke-width="1.1" stroke-linecap="butt"/>
<text x="353.20" y="428.22" font-size="11.5" font-weight="normal" text-anchor="end" fill="#111" stroke="#111" stroke-width="0.3">250</text>
<line x1="354.60" y1="406.70" x2="357.20" y2="406.70" stroke="#111" stroke-width="1.1" stroke-linecap="butt"/>
<text x="353.20" y="410.80" font-size="11.5" font-weight="normal" text-anchor="end" fill="#111" stroke="#111" stroke-width="0.3">300</text>
<line x1="370.90" y1="511.20" x2="370.90" y2="514.20" stroke="#111" stroke-width="1" stroke-linecap="butt"/>
<text x="369.40" y="524.70" font-size="10.8" font-weight="normal" text-anchor="middle" fill="#111" stroke="#111" stroke-width="0.3">0.001</text>
<line x1="397.00" y1="511.20" x2="397.00" y2="514.20" stroke="#111" stroke-width="1" stroke-linecap="butt"/>
<text x="397.00" y="524.70" font-size="10.8" font-weight="normal" text-anchor="middle" fill="#111" stroke="#111" stroke-width="0.3">0.01</text>
<line x1="423.10" y1="511.20" x2="423.10" y2="514.20" stroke="#111" stroke-width="1" stroke-linecap="butt"/>
<text x="423.10" y="524.70" font-size="10.8" font-weight="normal" text-anchor="middle" fill="#111" stroke="#111" stroke-width="0.3">0.1</text>
<line x1="449.20" y1="511.20" x2="449.20" y2="514.20" stroke="#111" stroke-width="1" stroke-linecap="butt"/>
<text x="449.20" y="524.70" font-size="10.8" font-weight="normal" text-anchor="middle" fill="#111" stroke="#111" stroke-width="0.3">1</text>
<line x1="475.30" y1="511.20" x2="475.30" y2="514.20" stroke="#111" stroke-width="1" stroke-linecap="butt"/>
<text x="475.30" y="524.70" font-size="10.8" font-weight="normal" text-anchor="middle" fill="#111" stroke="#111" stroke-width="0.3">10</text>
<line x1="501.40" y1="511.20" x2="501.40" y2="514.20" stroke="#111" stroke-width="1" stroke-linecap="butt"/>
<text x="501.40" y="524.70" font-size="10.8" font-weight="normal" text-anchor="middle" fill="#111" stroke="#111" stroke-width="0.3">100</text>
<text x="428.30" y="394.80" font-size="12.5" font-weight="bold" text-anchor="middle" fill="#111" stroke="#111" stroke-width="0.3">Type I mAb</text>
<line x1="370.90" y1="505.97" x2="370.90" y2="504.93" stroke="#444" stroke-width="0.6" stroke-linecap="butt"/>
<line x1="369.40" y1="504.93" x2="372.40" y2="504.93" stroke="#444" stroke-width="0.6" stroke-linecap="butt"/>
<line x1="397.00" y1="505.97" x2="397.00" y2="504.93" stroke="#444" stroke-width="0.6" stroke-linecap="butt"/>
<line x1="395.50" y1="504.93" x2="398.50" y2="504.93" stroke="#444" stroke-width="0.6" stroke-linecap="butt"/>
<line x1="423.10" y1="504.93" x2="423.10" y2="503.88" stroke="#444" stroke-width="0.6" stroke-linecap="butt"/>
<line x1="421.60" y1="503.88" x2="424.60" y2="503.88" stroke="#444" stroke-width="0.6" stroke-linecap="butt"/>
<line x1="449.20" y1="507.02" x2="449.20" y2="505.97" stroke="#444" stroke-width="0.6" stroke-linecap="butt"/>
<line x1="447.70" y1="505.97" x2="450.70" y2="505.97" stroke="#444" stroke-width="0.6" stroke-linecap="butt"/>
<line x1="475.30" y1="501.80" x2="475.30" y2="500.40" stroke="#444" stroke-width="0.6" stroke-linecap="butt"/>
<line x1="473.80" y1="500.40" x2="476.80" y2="500.40" stroke="#444" stroke-width="0.6" stroke-linecap="butt"/>
<line x1="501.40" y1="501.10" x2="501.40" y2="499.36" stroke="#444" stroke-width="0.6" stroke-linecap="butt"/>
<line x1="499.90" y1="499.36" x2="502.90" y2="499.36" stroke="#444" stroke-width="0.6" stroke-linecap="butt"/>
<polyline points="370.90,505.97 397.00,505.97 423.10,504.93 449.20,507.02 475.30,501.80 501.40,501.10" fill="none" stroke="#222" stroke-width="0.7" stroke-linejoin="round"/>
<rect x="369.50" y="504.57" width="2.80" height="2.80" fill="#111"/>
<rect x="395.60" y="504.57" width="2.80" height="2.80" fill="#111"/>
<rect x="421.70" y="503.53" width="2.80" height="2.80" fill="#111"/>
<rect x="447.80" y="505.62" width="2.80" height="2.80" fill="#111"/>
<rect x="473.90" y="500.40" width="2.80" height="2.80" fill="#111"/>
<rect x="500.00" y="499.70" width="2.80" height="2.80" fill="#111"/>
<line x1="370.90" y1="504.93" x2="370.90" y2="503.54" stroke="#444" stroke-width="0.6" stroke-linecap="butt"/>
<line x1="369.40" y1="503.54" x2="372.40" y2="503.54" stroke="#444" stroke-width="0.6" stroke-linecap="butt"/>
<line x1="397.00" y1="504.93" x2="397.00" y2="503.54" stroke="#444" stroke-width="0.6" stroke-linecap="butt"/>
<line x1="395.50" y1="503.54" x2="398.50" y2="503.54" stroke="#444" stroke-width="0.6" stroke-linecap="butt"/>
<line x1="423.10" y1="504.23" x2="423.10" y2="502.84" stroke="#444" stroke-width="0.6" stroke-linecap="butt"/>
<line x1="421.60" y1="502.84" x2="424.60" y2="502.84" stroke="#444" stroke-width="0.6" stroke-linecap="butt"/>
<line x1="449.20" y1="504.23" x2="449.20" y2="502.84" stroke="#444" stroke-width="0.6" stroke-linecap="butt"/>
<line x1="447.70" y1="502.84" x2="450.70" y2="502.84" stroke="#444" stroke-width="0.6" stroke-linecap="butt"/>
<line x1="475.30" y1="501.80" x2="475.30" y2="495.53" stroke="#444" stroke-width="0.6" stroke-linecap="butt"/>
<line x1="473.80" y1="495.53" x2="476.80" y2="495.53" stroke="#444" stroke-width="0.6" stroke-linecap="butt"/>
<line x1="501.40" y1="494.48" x2="501.40" y2="490.30" stroke="#444" stroke-width="0.6" stroke-linecap="butt"/>
<line x1="499.90" y1="490.30" x2="502.90" y2="490.30" stroke="#444" stroke-width="0.6" stroke-linecap="butt"/>
<polyline points="370.90,504.93 397.00,504.93 423.10,504.23 449.20,504.23 475.30,501.80 501.40,494.48" fill="none" stroke="#222" stroke-width="1.2" stroke-dasharray="2.2 1.2" stroke-linejoin="round"/>
<rect x="369.50" y="503.53" width="2.80" height="2.80" fill="#111"/>
<rect x="395.60" y="503.53" width="2.80" height="2.80" fill="#111"/>
<rect x="421.70" y="502.83" width="2.80" height="2.80" fill="#111"/>
<rect x="447.80" y="502.83" width="2.80" height="2.80" fill="#111"/>
<rect x="473.90" y="500.40" width="2.80" height="2.80" fill="#111"/>
<rect x="500.00" y="493.08" width="2.80" height="2.80" fill="#111"/>
<line x1="370.90" y1="504.93" x2="370.90" y2="497.96" stroke="#444" stroke-width="0.6" stroke-linecap="butt"/>
<line x1="369.40" y1="497.96" x2="372.40" y2="497.96" stroke="#444" stroke-width="0.6" stroke-linecap="butt"/>
<line x1="397.00" y1="504.23" x2="397.00" y2="501.45" stroke="#444" stroke-width="0.6" stroke-linecap="butt"/>
<line x1="395.50" y1="501.45" x2="398.50" y2="501.45" stroke="#444" stroke-width="0.6" stroke-linecap="butt"/>
<line x1="423.10" y1="500.75" x2="423.10" y2="497.27" stroke="#444" stroke-width="0.6" stroke-linecap="butt"/>
<line x1="421.60" y1="497.27" x2="424.60" y2="497.27" stroke="#444" stroke-width="0.6" stroke-linecap="butt"/>
<line x1="449.20" y1="480.55" x2="449.20" y2="473.58" stroke="#444" stroke-width="0.6" stroke-linecap="butt"/>
<line x1="447.70" y1="473.58" x2="450.70" y2="473.58" stroke="#444" stroke-width="0.6" stroke-linecap="butt"/>
<line x1="475.30" y1="458.95" x2="475.30" y2="438.05" stroke="#444" stroke-width="0.6" stroke-linecap="butt"/>
<line x1="473.80" y1="438.05" x2="476.80" y2="438.05" stroke="#444" stroke-width="0.6" stroke-linecap="butt"/>
<line x1="501.40" y1="454.77" x2="501.40" y2="449.54" stroke="#444" stroke-width="0.6" stroke-linecap="butt"/>
<line x1="499.90" y1="449.54" x2="502.90" y2="449.54" stroke="#444" stroke-width="0.6" stroke-linecap="butt"/>
<polyline points="370.90,504.93 397.00,504.23 423.10,500.75 449.20,480.55 475.30,458.95 501.40,454.77" fill="none" stroke="#222" stroke-width="0.7" stroke-linejoin="round"/>
<circle cx="370.90" cy="504.93" r="1.54" fill="#111"/>
<circle cx="397.00" cy="504.23" r="1.54" fill="#111"/>
<circle cx="423.10" cy="500.75" r="1.54" fill="#111"/>
<circle cx="449.20" cy="480.55" r="1.54" fill="#111"/>
<circle cx="475.30" cy="458.95" r="1.54" fill="#111"/>
<circle cx="501.40" cy="454.77" r="1.54" fill="#111"/>
<line x1="370.90" y1="505.63" x2="370.90" y2="503.88" stroke="#444" stroke-width="0.6" stroke-linecap="butt"/>
<line x1="369.40" y1="503.88" x2="372.40" y2="503.88" stroke="#444" stroke-width="0.6" stroke-linecap="butt"/>
<line x1="397.00" y1="504.93" x2="397.00" y2="503.19" stroke="#444" stroke-width="0.6" stroke-linecap="butt"/>
<line x1="395.50" y1="503.19" x2="398.50" y2="503.19" stroke="#444" stroke-width="0.6" stroke-linecap="butt"/>
<line x1="423.10" y1="502.14" x2="423.10" y2="499.36" stroke="#444" stroke-width="0.6" stroke-linecap="butt"/>
<line x1="421.60" y1="499.36" x2="424.60" y2="499.36" stroke="#444" stroke-width="0.6" stroke-linecap="butt"/>
<line x1="449.20" y1="483.33" x2="449.20" y2="478.11" stroke="#444" stroke-width="0.6" stroke-linecap="butt"/>
<line x1="447.70" y1="478.11" x2="450.70" y2="478.11" stroke="#444" stroke-width="0.6" stroke-linecap="butt"/>
<line x1="475.30" y1="472.19" x2="475.30" y2="465.22" stroke="#444" stroke-width="0.6" stroke-linecap="butt"/>
<line x1="473.80" y1="465.22" x2="476.80" y2="465.22" stroke="#444" stroke-width="0.6" stroke-linecap="butt"/>
<line x1="501.40" y1="467.66" x2="501.40" y2="460.69" stroke="#444" stroke-width="0.6" stroke-linecap="butt"/>
<line x1="499.90" y1="460.69" x2="502.90" y2="460.69" stroke="#444" stroke-width="0.6" stroke-linecap="butt"/>
<polyline points="370.90,505.63 397.00,504.93 423.10,502.14 449.20,483.33 475.30,472.19 501.40,467.66" fill="none" stroke="#222" stroke-width="1.2" stroke-dasharray="2.2 1.2" stroke-linejoin="round"/>
<circle cx="370.90" cy="505.63" r="1.54" fill="#111"/>
<circle cx="397.00" cy="504.93" r="1.54" fill="#111"/>
<circle cx="423.10" cy="502.14" r="1.54" fill="#111"/>
<circle cx="449.20" cy="483.33" r="1.54" fill="#111"/>
<circle cx="475.30" cy="472.19" r="1.54" fill="#111"/>
<circle cx="501.40" cy="467.66" r="1.54" fill="#111"/>
<line x1="370.90" y1="504.23" x2="370.90" y2="502.14" stroke="#444" stroke-width="0.6" stroke-linecap="butt"/>
<line x1="369.40" y1="502.14" x2="372.40" y2="502.14" stroke="#444" stroke-width="0.6" stroke-linecap="butt"/>
<line x1="397.00" y1="503.54" x2="397.00" y2="501.45" stroke="#444" stroke-width="0.6" stroke-linecap="butt"/>
<line x1="395.50" y1="501.45" x2="398.50" y2="501.45" stroke="#444" stroke-width="0.6" stroke-linecap="butt"/>
<line x1="423.10" y1="501.45" x2="423.10" y2="497.96" stroke="#444" stroke-width="0.6" stroke-linecap="butt"/>
<line x1="421.60" y1="497.96" x2="424.60" y2="497.96" stroke="#444" stroke-width="0.6" stroke-linecap="butt"/>
<line x1="449.20" y1="481.59" x2="449.20" y2="472.88" stroke="#444" stroke-width="0.6" stroke-linecap="butt"/>
<line x1="447.70" y1="472.88" x2="450.70" y2="472.88" stroke="#444" stroke-width="0.6" stroke-linecap="butt"/>
<line x1="475.30" y1="465.22" x2="475.30" y2="456.51" stroke="#444" stroke-width="0.6" stroke-linecap="butt"/>
<line x1="473.80" y1="456.51" x2="476.80" y2="456.51" stroke="#444" stroke-width="0.6" stroke-linecap="butt"/>
<line x1="501.40" y1="441.53" x2="501.40" y2="420.63" stroke="#444" stroke-width="0.6" stroke-linecap="butt"/>
<line x1="499.90" y1="420.63" x2="502.90" y2="420.63" stroke="#444" stroke-width="0.6" stroke-linecap="butt"/>
<polyline points="370.90,504.23 397.00,503.54 423.10,501.45 449.20,481.59 475.30,465.22 501.40,441.53" fill="none" stroke="#222" stroke-width="0.7" stroke-linejoin="round"/>
<circle cx="370.90" cy="504.23" r="1.54" fill="#111"/>
<circle cx="397.00" cy="503.54" r="1.54" fill="#111"/>
<circle cx="423.10" cy="501.45" r="1.54" fill="#111"/>
<circle cx="449.20" cy="481.59" r="1.54" fill="#111"/>
<circle cx="475.30" cy="465.22" r="1.54" fill="#111"/>
<circle cx="501.40" cy="441.53" r="1.54" fill="#111"/>
<line x1="370.90" y1="506.32" x2="370.90" y2="504.93" stroke="#444" stroke-width="0.6" stroke-linecap="butt"/>
<line x1="369.40" y1="504.93" x2="372.40" y2="504.93" stroke="#444" stroke-width="0.6" stroke-linecap="butt"/>
<line x1="397.00" y1="504.93" x2="397.00" y2="503.54" stroke="#444" stroke-width="0.6" stroke-linecap="butt"/>
<line x1="395.50" y1="503.54" x2="398.50" y2="503.54" stroke="#444" stroke-width="0.6" stroke-linecap="butt"/>
<line x1="423.10" y1="502.49" x2="423.10" y2="500.40" stroke="#444" stroke-width="0.6" stroke-linecap="butt"/>
<line x1="421.60" y1="500.40" x2="424.60" y2="500.40" stroke="#444" stroke-width="0.6" stroke-linecap="butt"/>
<line x1="449.20" y1="479.85" x2="449.20" y2="475.67" stroke="#444" stroke-width="0.6" stroke-linecap="butt"/>
<line x1="447.70" y1="475.67" x2="450.70" y2="475.67" stroke="#444" stroke-width="0.6" stroke-linecap="butt"/>
<line x1="475.30" y1="458.95" x2="475.30" y2="451.98" stroke="#444" stroke-width="0.6" stroke-linecap="butt"/>
<line x1="473.80" y1="451.98" x2="476.80" y2="451.98" stroke="#444" stroke-width="0.6" stroke-linecap="butt"/>
<line x1="501.40" y1="464.18" x2="501.40" y2="457.21" stroke="#444" stroke-width="0.6" stroke-linecap="butt"/>
<line x1="499.90" y1="457.21" x2="502.90" y2="457.21" stroke="#444" stroke-width="0.6" stroke-linecap="butt"/>
<polyline points="370.90,506.32 397.00,504.93 423.10,502.49 449.20,479.85 475.30,458.95 501.40,464.18" fill="none" stroke="#222" stroke-width="0.7" stroke-linejoin="round"/>
<polygon points="370.90,504.50 369.15,507.58 372.65,507.58" fill="#111"/>
<polygon points="397.00,503.11 395.25,506.19 398.75,506.19" fill="#111"/>
<polygon points="423.10,500.67 421.35,503.75 424.85,503.75" fill="#111"/>
<polygon points="449.20,478.03 447.45,481.11 450.95,481.11" fill="#111"/>
<polygon points="475.30,457.13 473.55,460.21 477.05,460.21" fill="#111"/>
<polygon points="501.40,462.36 499.65,465.44 503.15,465.44" fill="#111"/>
<line x1="370.90" y1="507.02" x2="370.90" y2="505.63" stroke="#444" stroke-width="0.6" stroke-linecap="butt"/>
<line x1="369.40" y1="505.63" x2="372.40" y2="505.63" stroke="#444" stroke-width="0.6" stroke-linecap="butt"/>
<line x1="397.00" y1="505.97" x2="397.00" y2="504.58" stroke="#444" stroke-width="0.6" stroke-linecap="butt"/>
<line x1="395.50" y1="504.58" x2="398.50" y2="504.58" stroke="#444" stroke-width="0.6" stroke-linecap="butt"/>
<line x1="423.10" y1="503.54" x2="423.10" y2="501.45" stroke="#444" stroke-width="0.6" stroke-linecap="butt"/>
<line x1="421.60" y1="501.45" x2="424.60" y2="501.45" stroke="#444" stroke-width="0.6" stroke-linecap="butt"/>
<line x1="449.20" y1="486.82" x2="449.20" y2="483.33" stroke="#444" stroke-width="0.6" stroke-linecap="butt"/>
<line x1="447.70" y1="483.33" x2="450.70" y2="483.33" stroke="#444" stroke-width="0.6" stroke-linecap="butt"/>
<line x1="475.30" y1="478.11" x2="475.30" y2="471.14" stroke="#444" stroke-width="0.6" stroke-linecap="butt"/>
<line x1="473.80" y1="471.14" x2="476.80" y2="471.14" stroke="#444" stroke-width="0.6" stroke-linecap="butt"/>
<line x1="501.40" y1="479.15" x2="501.40" y2="472.19" stroke="#444" stroke-width="0.6" stroke-linecap="butt"/>
<line x1="499.90" y1="472.19" x2="502.90" y2="472.19" stroke="#444" stroke-width="0.6" stroke-linecap="butt"/>
<polyline points="370.90,507.02 397.00,505.97 423.10,503.54 449.20,486.82 475.30,478.11 501.40,479.15" fill="none" stroke="#222" stroke-width="1.2" stroke-dasharray="2.2 1.2" stroke-linejoin="round"/>
<polygon points="370.90,505.20 369.15,508.28 372.65,508.28" fill="#111"/>
<polygon points="397.00,504.15 395.25,507.23 398.75,507.23" fill="#111"/>
<polygon points="423.10,501.72 421.35,504.80 424.85,504.80" fill="#111"/>
<polygon points="449.20,485.00 447.45,488.08 450.95,488.08" fill="#111"/>
<polygon points="475.30,476.29 473.55,479.37 477.05,479.37" fill="#111"/>
<polygon points="501.40,477.33 499.65,480.41 503.15,480.41" fill="#111"/>
<line x1="364.80" y1="406.50" x2="376.80" y2="406.50" stroke="#333" stroke-width="0.8" stroke-linecap="butt"/>
<rect x="368.30" y="404.00" width="5.00" height="5.00" fill="#111"/>
<text x="380.80" y="409.30" font-size="8.2" font-weight="normal" text-anchor="start" fill="#111" stroke="#111" stroke-width="0.3">Irr m2a</text>
<line x1="364.80" y1="416.80" x2="367.80" y2="416.80" stroke="#111" stroke-width="1.5" stroke-linecap="butt"/>
<line x1="375.00" y1="416.80" x2="376.60" y2="416.80" stroke="#111" stroke-width="1.5" stroke-linecap="butt"/>
<rect x="368.30" y="414.30" width="5.00" height="5.00" fill="#111"/>
<text x="380.80" y="419.60" font-size="8.2" font-weight="normal" text-anchor="start" fill="#111" stroke="#111" stroke-width="0.3">Irr hIgG1</text>
<line x1="364.80" y1="429.20" x2="376.80" y2="429.20" stroke="#333" stroke-width="0.8" stroke-linecap="butt"/>
<circle cx="370.80" cy="429.20" r="2.48" fill="#111"/>
<text x="380.80" y="432.00" font-size="8.2" font-weight="normal" text-anchor="start" fill="#111" stroke="#111" stroke-width="0.3">RTX</text>
<line x1="364.80" y1="441.50" x2="367.80" y2="441.50" stroke="#111" stroke-width="1.5" stroke-linecap="butt"/>
<line x1="375.00" y1="441.50" x2="376.60" y2="441.50" stroke="#111" stroke-width="1.5" stroke-linecap="butt"/>
<circle cx="370.80" cy="441.50" r="2.48" fill="#111"/>
<text x="380.80" y="444.30" font-size="8.2" font-weight="normal" text-anchor="start" fill="#111" stroke="#111" stroke-width="0.3">RTX m2a</text>
<line x1="365.60" y1="454.50" x2="367.00" y2="454.50" stroke="#111" stroke-width="1.5" stroke-linecap="butt"/>
<line x1="375.00" y1="454.50" x2="376.60" y2="454.50" stroke="#111" stroke-width="1.5" stroke-linecap="butt"/>
<circle cx="370.80" cy="454.50" r="2.48" fill="#111"/>
<text x="380.80" y="457.30" font-size="8.2" font-weight="normal" text-anchor="start" fill="#111" stroke="#111" stroke-width="0.3">RTX m1</text>
<line x1="364.80" y1="464.60" x2="376.80" y2="464.60" stroke="#333" stroke-width="0.8" stroke-linecap="butt"/>
<polygon points="370.80,461.48 367.80,466.76 373.80,466.76" fill="#111"/>
<text x="380.80" y="467.40" font-size="8.2" font-weight="normal" text-anchor="start" fill="#111" stroke="#111" stroke-width="0.3">OFA</text>
<line x1="364.80" y1="474.40" x2="367.80" y2="474.40" stroke="#111" stroke-width="1.5" stroke-linecap="butt"/>
<line x1="375.00" y1="474.40" x2="376.60" y2="474.40" stroke="#111" stroke-width="1.5" stroke-linecap="butt"/>
<polygon points="370.80,471.28 367.80,476.56 373.80,476.56" fill="#111"/>
<text x="380.80" y="477.20" font-size="8.2" font-weight="normal" text-anchor="start" fill="#111" stroke="#111" stroke-width="0.3">OFA m2a</text>
<line x1="357.20" y1="546.20" x2="357.20" y2="654.10" stroke="#111" stroke-width="1.3" stroke-linecap="butt"/>
<line x1="356.60" y1="653.50" x2="519.00" y2="653.50" stroke="#111" stroke-width="1.3" stroke-linecap="butt"/>
<line x1="354.60" y1="653.50" x2="357.20" y2="653.50" stroke="#111" stroke-width="1.1" stroke-linecap="butt"/>
<text x="353.20" y="657.60" font-size="11.5" font-weight="normal" text-anchor="end" fill="#111" stroke="#111" stroke-width="0.3">0</text>
<line x1="354.60" y1="635.70" x2="357.20" y2="635.70" stroke="#111" stroke-width="1.1" stroke-linecap="butt"/>
<text x="353.20" y="639.80" font-size="11.5" font-weight="normal" text-anchor="end" fill="#111" stroke="#111" stroke-width="0.3">50</text>
<line x1="354.60" y1="617.90" x2="357.20" y2="617.90" stroke="#111" stroke-width="1.1" stroke-linecap="butt"/>
<text x="353.20" y="622.00" font-size="11.5" font-weight="normal" text-anchor="end" fill="#111" stroke="#111" stroke-width="0.3">100</text>
<line x1="354.60" y1="600.10" x2="357.20" y2="600.10" stroke="#111" stroke-width="1.1" stroke-linecap="butt"/>
<text x="353.20" y="604.20" font-size="11.5" font-weight="normal" text-anchor="end" fill="#111" stroke="#111" stroke-width="0.3">150</text>
<line x1="354.60" y1="582.30" x2="357.20" y2="582.30" stroke="#111" stroke-width="1.1" stroke-linecap="butt"/>
<text x="353.20" y="586.40" font-size="11.5" font-weight="normal" text-anchor="end" fill="#111" stroke="#111" stroke-width="0.3">200</text>
<line x1="354.60" y1="564.50" x2="357.20" y2="564.50" stroke="#111" stroke-width="1.1" stroke-linecap="butt"/>
<text x="353.20" y="568.60" font-size="11.5" font-weight="normal" text-anchor="end" fill="#111" stroke="#111" stroke-width="0.3">250</text>
<line x1="354.60" y1="546.70" x2="357.20" y2="546.70" stroke="#111" stroke-width="1.1" stroke-linecap="butt"/>
<text x="353.20" y="550.80" font-size="11.5" font-weight="normal" text-anchor="end" fill="#111" stroke="#111" stroke-width="0.3">300</text>
<line x1="371.20" y1="653.50" x2="371.20" y2="656.50" stroke="#111" stroke-width="1" stroke-linecap="butt"/>
<text x="369.70" y="667.00" font-size="10.8" font-weight="normal" text-anchor="middle" fill="#111" stroke="#111" stroke-width="0.3">0.001</text>
<line x1="397.80" y1="653.50" x2="397.80" y2="656.50" stroke="#111" stroke-width="1" stroke-linecap="butt"/>
<text x="397.80" y="667.00" font-size="10.8" font-weight="normal" text-anchor="middle" fill="#111" stroke="#111" stroke-width="0.3">0.01</text>
<line x1="424.40" y1="653.50" x2="424.40" y2="656.50" stroke="#111" stroke-width="1" stroke-linecap="butt"/>
<text x="424.40" y="667.00" font-size="10.8" font-weight="normal" text-anchor="middle" fill="#111" stroke="#111" stroke-width="0.3">0.1</text>
<line x1="451.00" y1="653.50" x2="451.00" y2="656.50" stroke="#111" stroke-width="1" stroke-linecap="butt"/>
<text x="451.00" y="667.00" font-size="10.8" font-weight="normal" text-anchor="middle" fill="#111" stroke="#111" stroke-width="0.3">1</text>
<line x1="477.60" y1="653.50" x2="477.60" y2="656.50" stroke="#111" stroke-width="1" stroke-linecap="butt"/>
<text x="477.60" y="667.00" font-size="10.8" font-weight="normal" text-anchor="middle" fill="#111" stroke="#111" stroke-width="0.3">10</text>
<line x1="504.20" y1="653.50" x2="504.20" y2="656.50" stroke="#111" stroke-width="1" stroke-linecap="butt"/>
<text x="504.20" y="667.00" font-size="10.8" font-weight="normal" text-anchor="middle" fill="#111" stroke="#111" stroke-width="0.3">100</text>
<text x="428.30" y="543.80" font-size="12.5" font-weight="bold" text-anchor="middle" fill="#111" stroke="#111" stroke-width="0.3">Type II mAb</text>
<line x1="371.20" y1="648.16" x2="371.20" y2="647.09" stroke="#444" stroke-width="0.6" stroke-linecap="butt"/>
<line x1="369.70" y1="647.09" x2="372.70" y2="647.09" stroke="#444" stroke-width="0.6" stroke-linecap="butt"/>
<line x1="397.80" y1="648.16" x2="397.80" y2="647.09" stroke="#444" stroke-width="0.6" stroke-linecap="butt"/>
<line x1="396.30" y1="647.09" x2="399.30" y2="647.09" stroke="#444" stroke-width="0.6" stroke-linecap="butt"/>
<line x1="424.40" y1="647.09" x2="424.40" y2="646.02" stroke="#444" stroke-width="0.6" stroke-linecap="butt"/>
<line x1="422.90" y1="646.02" x2="425.90" y2="646.02" stroke="#444" stroke-width="0.6" stroke-linecap="butt"/>
<line x1="451.00" y1="649.23" x2="451.00" y2="648.16" stroke="#444" stroke-width="0.6" stroke-linecap="butt"/>
<line x1="449.50" y1="648.16" x2="452.50" y2="648.16" stroke="#444" stroke-width="0.6" stroke-linecap="butt"/>
<line x1="477.60" y1="643.89" x2="477.60" y2="642.46" stroke="#444" stroke-width="0.6" stroke-linecap="butt"/>
<line x1="476.10" y1="642.46" x2="479.10" y2="642.46" stroke="#444" stroke-width="0.6" stroke-linecap="butt"/>
<line x1="504.20" y1="643.18" x2="504.20" y2="641.40" stroke="#444" stroke-width="0.6" stroke-linecap="butt"/>
<line x1="502.70" y1="641.40" x2="505.70" y2="641.40" stroke="#444" stroke-width="0.6" stroke-linecap="butt"/>
<polyline points="371.20,648.16 397.80,648.16 424.40,647.09 451.00,649.23 477.60,643.89 504.20,643.18" fill="none" stroke="#222" stroke-width="0.7" stroke-linejoin="round"/>
<rect x="369.80" y="646.76" width="2.80" height="2.80" fill="#111"/>
<rect x="396.40" y="646.76" width="2.80" height="2.80" fill="#111"/>
<rect x="423.00" y="645.69" width="2.80" height="2.80" fill="#111"/>
<rect x="449.60" y="647.83" width="2.80" height="2.80" fill="#111"/>
<rect x="476.20" y="642.49" width="2.80" height="2.80" fill="#111"/>
<rect x="502.80" y="641.78" width="2.80" height="2.80" fill="#111"/>
<line x1="371.20" y1="647.09" x2="371.20" y2="645.67" stroke="#444" stroke-width="0.6" stroke-linecap="butt"/>
<line x1="369.70" y1="645.67" x2="372.70" y2="645.67" stroke="#444" stroke-width="0.6" stroke-linecap="butt"/>
<line x1="397.80" y1="647.09" x2="397.80" y2="645.67" stroke="#444" stroke-width="0.6" stroke-linecap="butt"/>
<line x1="396.30" y1="645.67" x2="399.30" y2="645.67" stroke="#444" stroke-width="0.6" stroke-linecap="butt"/>
<line x1="424.40" y1="646.38" x2="424.40" y2="644.96" stroke="#444" stroke-width="0.6" stroke-linecap="butt"/>
<line x1="422.90" y1="644.96" x2="425.90" y2="644.96" stroke="#444" stroke-width="0.6" stroke-linecap="butt"/>
<line x1="451.00" y1="646.38" x2="451.00" y2="644.96" stroke="#444" stroke-width="0.6" stroke-linecap="butt"/>
<line x1="449.50" y1="644.96" x2="452.50" y2="644.96" stroke="#444" stroke-width="0.6" stroke-linecap="butt"/>
<line x1="477.60" y1="643.89" x2="477.60" y2="637.48" stroke="#444" stroke-width="0.6" stroke-linecap="butt"/>
<line x1="476.10" y1="637.48" x2="479.10" y2="637.48" stroke="#444" stroke-width="0.6" stroke-linecap="butt"/>
<line x1="504.20" y1="636.41" x2="504.20" y2="631.43" stroke="#444" stroke-width="0.6" stroke-linecap="butt"/>
<line x1="502.70" y1="631.43" x2="505.70" y2="631.43" stroke="#444" stroke-width="0.6" stroke-linecap="butt"/>
<polyline points="371.20,647.09 397.80,647.09 424.40,646.38 451.00,646.38 477.60,643.89 504.20,636.41" fill="none" stroke="#222" stroke-width="1.2" stroke-dasharray="2.2 1.2" stroke-linejoin="round"/>
<rect x="369.80" y="645.69" width="2.80" height="2.80" fill="#111"/>
<rect x="396.40" y="645.69" width="2.80" height="2.80" fill="#111"/>
<rect x="423.00" y="644.98" width="2.80" height="2.80" fill="#111"/>
<rect x="449.60" y="644.98" width="2.80" height="2.80" fill="#111"/>
<rect x="476.20" y="642.49" width="2.80" height="2.80" fill="#111"/>
<rect x="502.80" y="635.01" width="2.80" height="2.80" fill="#111"/>
<line x1="371.20" y1="647.09" x2="371.20" y2="645.31" stroke="#444" stroke-width="0.6" stroke-linecap="butt"/>
<line x1="369.70" y1="645.31" x2="372.70" y2="645.31" stroke="#444" stroke-width="0.6" stroke-linecap="butt"/>
<line x1="397.80" y1="646.38" x2="397.80" y2="644.60" stroke="#444" stroke-width="0.6" stroke-linecap="butt"/>
<line x1="396.30" y1="644.60" x2="399.30" y2="644.60" stroke="#444" stroke-width="0.6" stroke-linecap="butt"/>
<line x1="424.40" y1="642.82" x2="424.40" y2="639.26" stroke="#444" stroke-width="0.6" stroke-linecap="butt"/>
<line x1="422.90" y1="639.26" x2="425.90" y2="639.26" stroke="#444" stroke-width="0.6" stroke-linecap="butt"/>
<line x1="451.00" y1="627.16" x2="451.00" y2="621.82" stroke="#444" stroke-width="0.6" stroke-linecap="butt"/>
<line x1="449.50" y1="621.82" x2="452.50" y2="621.82" stroke="#444" stroke-width="0.6" stroke-linecap="butt"/>
<line x1="477.60" y1="620.75" x2="477.60" y2="613.63" stroke="#444" stroke-width="0.6" stroke-linecap="butt"/>
<line x1="476.10" y1="613.63" x2="479.10" y2="613.63" stroke="#444" stroke-width="0.6" stroke-linecap="butt"/>
<line x1="504.20" y1="623.60" x2="504.20" y2="618.26" stroke="#444" stroke-width="0.6" stroke-linecap="butt"/>
<line x1="502.70" y1="618.26" x2="505.70" y2="618.26" stroke="#444" stroke-width="0.6" stroke-linecap="butt"/>
<polyline points="371.20,647.09 397.80,646.38 424.40,642.82 451.00,627.16 477.60,620.75 504.20,623.60" fill="none" stroke="#222" stroke-width="0.7" stroke-linejoin="round"/>
<polygon points="371.20,648.91 369.45,645.83 372.95,645.83" fill="#111"/>
<polygon points="397.80,648.20 396.05,645.12 399.55,645.12" fill="#111"/>
<polygon points="424.40,644.64 422.65,641.56 426.15,641.56" fill="#111"/>
<polygon points="451.00,628.98 449.25,625.90 452.75,625.90" fill="#111"/>
<polygon points="477.60,622.57 475.85,619.49 479.35,619.49" fill="#111"/>
<polygon points="504.20,625.42 502.45,622.34 505.95,622.34" fill="#111"/>
<line x1="371.20" y1="648.52" x2="371.20" y2="646.74" stroke="#444" stroke-width="0.6" stroke-linecap="butt"/>
<line x1="369.70" y1="646.74" x2="372.70" y2="646.74" stroke="#444" stroke-width="0.6" stroke-linecap="butt"/>
<line x1="397.80" y1="647.45" x2="397.80" y2="645.67" stroke="#444" stroke-width="0.6" stroke-linecap="butt"/>
<line x1="396.30" y1="645.67" x2="399.30" y2="645.67" stroke="#444" stroke-width="0.6" stroke-linecap="butt"/>
<line x1="424.40" y1="644.60" x2="424.40" y2="641.75" stroke="#444" stroke-width="0.6" stroke-linecap="butt"/>
<line x1="422.90" y1="641.75" x2="425.90" y2="641.75" stroke="#444" stroke-width="0.6" stroke-linecap="butt"/>
<line x1="451.00" y1="630.36" x2="451.00" y2="626.09" stroke="#444" stroke-width="0.6" stroke-linecap="butt"/>
<line x1="449.50" y1="626.09" x2="452.50" y2="626.09" stroke="#444" stroke-width="0.6" stroke-linecap="butt"/>
<line x1="477.60" y1="629.29" x2="477.60" y2="623.95" stroke="#444" stroke-width="0.6" stroke-linecap="butt"/>
<line x1="476.10" y1="623.95" x2="479.10" y2="623.95" stroke="#444" stroke-width="0.6" stroke-linecap="butt"/>
<line x1="504.20" y1="618.97" x2="504.20" y2="614.70" stroke="#444" stroke-width="0.6" stroke-linecap="butt"/>
<line x1="502.70" y1="614.70" x2="505.70" y2="614.70" stroke="#444" stroke-width="0.6" stroke-linecap="butt"/>
<polyline points="371.20,648.52 397.80,647.45 424.40,644.60 451.00,630.36 477.60,629.29 504.20,618.97" fill="none" stroke="#222" stroke-width="1.2" stroke-dasharray="2.2 1.2" stroke-linejoin="round"/>
<polygon points="371.20,650.34 369.45,647.26 372.95,647.26" fill="#111"/>
<polygon points="397.80,649.27 396.05,646.19 399.55,646.19" fill="#111"/>
<polygon points="424.40,646.42 422.65,643.34 426.15,643.34" fill="#111"/>
<polygon points="451.00,632.18 449.25,629.10 452.75,629.10" fill="#111"/>
<polygon points="477.60,631.11 475.85,628.03 479.35,628.03" fill="#111"/>
<polygon points="504.20,620.79 502.45,617.71 505.95,617.71" fill="#111"/>
<line x1="371.20" y1="646.38" x2="371.20" y2="644.60" stroke="#444" stroke-width="0.6" stroke-linecap="butt"/>
<line x1="369.70" y1="644.60" x2="372.70" y2="644.60" stroke="#444" stroke-width="0.6" stroke-linecap="butt"/>
<line x1="397.80" y1="645.67" x2="397.80" y2="643.89" stroke="#444" stroke-width="0.6" stroke-linecap="butt"/>
<line x1="396.30" y1="643.89" x2="399.30" y2="643.89" stroke="#444" stroke-width="0.6" stroke-linecap="butt"/>
<line x1="424.40" y1="642.11" x2="424.40" y2="637.84" stroke="#444" stroke-width="0.6" stroke-linecap="butt"/>
<line x1="422.90" y1="637.84" x2="425.90" y2="637.84" stroke="#444" stroke-width="0.6" stroke-linecap="butt"/>
<line x1="451.00" y1="627.87" x2="451.00" y2="621.46" stroke="#444" stroke-width="0.6" stroke-linecap="butt"/>
<line x1="449.50" y1="621.46" x2="452.50" y2="621.46" stroke="#444" stroke-width="0.6" stroke-linecap="butt"/>
<line x1="477.60" y1="612.20" x2="477.60" y2="602.24" stroke="#444" stroke-width="0.6" stroke-linecap="butt"/>
<line x1="476.10" y1="602.24" x2="479.10" y2="602.24" stroke="#444" stroke-width="0.6" stroke-linecap="butt"/>
<line x1="504.20" y1="615.41" x2="504.20" y2="611.85" stroke="#444" stroke-width="0.6" stroke-linecap="butt"/>
<line x1="502.70" y1="611.85" x2="505.70" y2="611.85" stroke="#444" stroke-width="0.6" stroke-linecap="butt"/>
<polyline points="371.20,646.38 397.80,645.67 424.40,642.11 451.00,627.87 477.60,612.20 504.20,615.41" fill="none" stroke="#222" stroke-width="0.7" stroke-linejoin="round"/>
<polygon points="371.20,644.56 369.38,646.38 371.20,648.20 373.02,646.38" fill="#111"/>
<polygon points="397.80,643.85 395.98,645.67 397.80,647.49 399.62,645.67" fill="#111"/>
<polygon points="424.40,640.29 422.58,642.11 424.40,643.93 426.22,642.11" fill="#111"/>
<polygon points="451.00,626.05 449.18,627.87 451.00,629.69 452.82,627.87" fill="#111"/>
<polygon points="477.60,610.38 475.78,612.20 477.60,614.02 479.42,612.20" fill="#111"/>
<polygon points="504.20,613.59 502.38,615.41 504.20,617.23 506.02,615.41" fill="#111"/>
<line x1="371.20" y1="647.80" x2="371.20" y2="646.02" stroke="#444" stroke-width="0.6" stroke-linecap="butt"/>
<line x1="369.70" y1="646.02" x2="372.70" y2="646.02" stroke="#444" stroke-width="0.6" stroke-linecap="butt"/>
<line x1="397.80" y1="647.09" x2="397.80" y2="645.31" stroke="#444" stroke-width="0.6" stroke-linecap="butt"/>
<line x1="396.30" y1="645.31" x2="399.30" y2="645.31" stroke="#444" stroke-width="0.6" stroke-linecap="butt"/>
<line x1="424.40" y1="644.96" x2="424.40" y2="642.11" stroke="#444" stroke-width="0.6" stroke-linecap="butt"/>
<line x1="422.90" y1="642.11" x2="425.90" y2="642.11" stroke="#444" stroke-width="0.6" stroke-linecap="butt"/>
<line x1="451.00" y1="631.43" x2="451.00" y2="627.87" stroke="#444" stroke-width="0.6" stroke-linecap="butt"/>
<line x1="449.50" y1="627.87" x2="452.50" y2="627.87" stroke="#444" stroke-width="0.6" stroke-linecap="butt"/>
<line x1="477.60" y1="623.95" x2="477.60" y2="618.61" stroke="#444" stroke-width="0.6" stroke-linecap="butt"/>
<line x1="476.10" y1="618.61" x2="479.10" y2="618.61" stroke="#444" stroke-width="0.6" stroke-linecap="butt"/>
<line x1="504.20" y1="618.97" x2="504.20" y2="614.70" stroke="#444" stroke-width="0.6" stroke-linecap="butt"/>
<line x1="502.70" y1="614.70" x2="505.70" y2="614.70" stroke="#444" stroke-width="0.6" stroke-linecap="butt"/>
<polyline points="371.20,647.80 397.80,647.09 424.40,644.96 451.00,631.43 477.60,623.95 504.20,618.97" fill="none" stroke="#222" stroke-width="1.2" stroke-dasharray="2.2 1.2" stroke-linejoin="round"/>
<polygon points="371.20,645.98 369.38,647.80 371.20,649.62 373.02,647.80" fill="#111"/>
<polygon points="397.80,645.27 395.98,647.09 397.80,648.91 399.62,647.09" fill="#111"/>
<polygon points="424.40,643.14 422.58,644.96 424.40,646.78 426.22,644.96" fill="#111"/>
<polygon points="451.00,629.61 449.18,631.43 451.00,633.25 452.82,631.43" fill="#111"/>
<polygon points="477.60,622.13 475.78,623.95 477.60,625.77 479.42,623.95" fill="#111"/>
<polygon points="504.20,617.15 502.38,618.97 504.20,620.79 506.02,618.97" fill="#111"/>
<line x1="362.50" y1="554.60" x2="374.50" y2="554.60" stroke="#333" stroke-width="0.8" stroke-linecap="butt"/>
<rect x="366.00" y="552.10" width="5.00" height="5.00" fill="#111"/>
<text x="376.80" y="557.40" font-size="8.6" font-weight="normal" text-anchor="start" fill="#111" stroke="#111" stroke-width="0.3">Irr m2a</text>
<line x1="362.50" y1="567.80" x2="365.50" y2="567.80" stroke="#111" stroke-width="1.5" stroke-linecap="butt"/>
<line x1="372.70" y1="567.80" x2="374.30" y2="567.80" stroke="#111" stroke-width="1.5" stroke-linecap="butt"/>
<rect x="366.00" y="565.30" width="5.00" height="5.00" fill="#111"/>
<text x="376.80" y="570.60" font-size="8.6" font-weight="normal" text-anchor="start" fill="#111" stroke="#111" stroke-width="0.3">Irr hIgG1</text>
<line x1="362.50" y1="580.40" x2="374.50" y2="580.40" stroke="#333" stroke-width="0.8" stroke-linecap="butt"/>
<polygon points="368.50,583.52 365.50,578.24 371.50,578.24" fill="#111"/>
<text x="376.80" y="583.20" font-size="8.6" font-weight="normal" text-anchor="start" fill="#111" stroke="#111" stroke-width="0.3">OBZ</text>
<line x1="362.50" y1="593.30" x2="365.50" y2="593.30" stroke="#111" stroke-width="1.5" stroke-linecap="butt"/>
<line x1="372.70" y1="593.30" x2="374.30" y2="593.30" stroke="#111" stroke-width="1.5" stroke-linecap="butt"/>
<polygon points="368.50,596.42 365.50,591.14 371.50,591.14" fill="#111"/>
<text x="376.80" y="596.10" font-size="8.6" font-weight="normal" text-anchor="start" fill="#111" stroke="#111" stroke-width="0.3">OBZ gly</text>
<line x1="362.50" y1="605.30" x2="374.50" y2="605.30" stroke="#333" stroke-width="0.8" stroke-linecap="butt"/>
<polygon points="368.50,602.44 365.64,605.30 368.50,608.16 371.36,605.30" fill="#111"/>
<text x="376.80" y="608.10" font-size="8.6" font-weight="normal" text-anchor="start" fill="#111" stroke="#111" stroke-width="0.3">OBZ m1</text>
<line x1="362.50" y1="618.00" x2="365.50" y2="618.00" stroke="#111" stroke-width="1.5" stroke-linecap="butt"/>
<line x1="372.70" y1="618.00" x2="374.30" y2="618.00" stroke="#111" stroke-width="1.5" stroke-linecap="butt"/>
<polygon points="368.50,615.14 365.64,618.00 368.50,620.86 371.36,618.00" fill="#111"/>
<text x="376.80" y="620.80" font-size="8.6" font-weight="normal" text-anchor="start" fill="#111" stroke="#111" stroke-width="0.3">OBZ m2a</text>
<text x="437.70" y="682.30" font-size="12.85" font-weight="bold" text-anchor="middle" fill="#111" stroke="#111" stroke-width="0.3">mAb concentration (μg/ml)</text>
<text x="1.30" y="716.20" font-size="15.5" font-weight="bold" text-anchor="start" fill="#111" stroke="#111" stroke-width="0.3">D</text>
<line x1="100.00" y1="708.50" x2="100.00" y2="892.10" stroke="#111" stroke-width="1.3" stroke-linecap="butt"/>
<line x1="99.40" y1="891.50" x2="465.00" y2="891.50" stroke="#111" stroke-width="1.3" stroke-linecap="butt"/>
<line x1="95.00" y1="891.50" x2="100.00" y2="891.50" stroke="#111" stroke-width="1.2" stroke-linecap="butt"/>
<text x="93.50" y="895.70" font-size="12" font-weight="normal" text-anchor="end" fill="#111" stroke="#111" stroke-width="0.3">0</text>
<line x1="95.00" y1="845.88" x2="100.00" y2="845.88" stroke="#111" stroke-width="1.2" stroke-linecap="butt"/>
<text x="93.50" y="850.08" font-size="12" font-weight="normal" text-anchor="end" fill="#111" stroke="#111" stroke-width="0.3">50</text>
<line x1="95.00" y1="800.25" x2="100.00" y2="800.25" stroke="#111" stroke-width="1.2" stroke-linecap="butt"/>
<text x="93.50" y="804.45" font-size="12" font-weight="normal" text-anchor="end" fill="#111" stroke="#111" stroke-width="0.3">100</text>
<line x1="95.00" y1="754.62" x2="100.00" y2="754.62" stroke="#111" stroke-width="1.2" stroke-linecap="butt"/>
<text x="93.50" y="758.83" font-size="12" font-weight="normal" text-anchor="end" fill="#111" stroke="#111" stroke-width="0.3">150</text>
<line x1="95.00" y1="709.00" x2="100.00" y2="709.00" stroke="#111" stroke-width="1.2" stroke-linecap="butt"/>
<text x="93.50" y="713.20" font-size="12" font-weight="normal" text-anchor="end" fill="#111" stroke="#111" stroke-width="0.3">200</text>
<text x="64.20" y="789.00" font-size="12.9" font-weight="normal" text-anchor="middle" fill="#111" stroke="#111" stroke-width="0.5" transform="rotate(-90 64.2 789)">Concentration (μg/ml)</text>
<line x1="113.50" y1="736.38" x2="113.50" y2="774.97" stroke="#111" stroke-width="1.5" stroke-linecap="butt"/>
<line x1="110.50" y1="736.38" x2="116.50" y2="736.38" stroke="#111" stroke-width="1.5" stroke-linecap="butt"/>
<rect x="107.75" y="774.97" width="11.50" height="116.53" fill="#000" stroke="#111" stroke-width="1.3"/>
<line x1="113.50" y1="891.50" x2="113.50" y2="896.00" stroke="#111" stroke-width="1.2" stroke-linecap="butt"/>
<text x="113.50" y="906.50" font-size="12" font-weight="normal" text-anchor="middle" fill="#111" stroke="#111" stroke-width="0.3">1</text>
<line x1="129.00" y1="790.21" x2="129.00" y2="803.99" stroke="#111" stroke-width="1.5" stroke-linecap="butt"/>
<line x1="126.00" y1="790.21" x2="132.00" y2="790.21" stroke="#111" stroke-width="1.5" stroke-linecap="butt"/>
<rect x="123.25" y="803.99" width="11.50" height="87.51" fill="#000" stroke="#111" stroke-width="1.3"/>
<line x1="129.00" y1="891.50" x2="129.00" y2="896.00" stroke="#111" stroke-width="1.2" stroke-linecap="butt"/>
<text x="129.00" y="906.50" font-size="12" font-weight="normal" text-anchor="middle" fill="#111" stroke="#111" stroke-width="0.3">2</text>
<line x1="144.50" y1="806.00" x2="144.50" y2="818.04" stroke="#111" stroke-width="1.5" stroke-linecap="butt"/>
<line x1="141.50" y1="806.00" x2="147.50" y2="806.00" stroke="#111" stroke-width="1.5" stroke-linecap="butt"/>
<rect x="138.75" y="818.04" width="11.50" height="73.46" fill="#000" stroke="#111" stroke-width="1.3"/>
<line x1="144.50" y1="891.50" x2="144.50" y2="896.00" stroke="#111" stroke-width="1.2" stroke-linecap="butt"/>
<text x="144.50" y="906.50" font-size="12" font-weight="normal" text-anchor="middle" fill="#111" stroke="#111" stroke-width="0.3">7</text>
<line x1="163.50" y1="891.50" x2="163.50" y2="896.00" stroke="#111" stroke-width="1.2" stroke-linecap="butt"/>
<text x="163.50" y="906.50" font-size="12" font-weight="normal" text-anchor="middle" fill="#111" stroke="#111" stroke-width="0.3">14</text>
<line x1="179.00" y1="891.50" x2="179.00" y2="896.00" stroke="#111" stroke-width="1.2" stroke-linecap="butt"/>
<text x="179.00" y="906.50" font-size="12" font-weight="normal" text-anchor="middle" fill="#111" stroke="#111" stroke-width="0.3">28</text>
<line x1="105.00" y1="914.50" x2="187.50" y2="914.50" stroke="#111" stroke-width="1.3" stroke-linecap="butt"/>
<text x="145.00" y="929.20" font-size="12.3" font-weight="normal" text-anchor="middle" fill="#111" stroke="#111" stroke-width="0.3">OFA</text>
<line x1="204.50" y1="796.97" x2="204.50" y2="811.47" stroke="#111" stroke-width="1.5" stroke-linecap="butt"/>
<line x1="201.50" y1="796.97" x2="207.50" y2="796.97" stroke="#111" stroke-width="1.5" stroke-linecap="butt"/>
<rect x="198.75" y="811.47" width="11.50" height="80.03" fill="#555" stroke="#111" stroke-width="1.3"/>
<line x1="204.50" y1="891.50" x2="204.50" y2="896.00" stroke="#111" stroke-width="1.2" stroke-linecap="butt"/>
<text x="204.50" y="906.50" font-size="12" font-weight="normal" text-anchor="middle" fill="#111" stroke="#111" stroke-width="0.3">1</text>
<line x1="220.00" y1="795.96" x2="220.00" y2="810.01" stroke="#111" stroke-width="1.5" stroke-linecap="butt"/>
<line x1="217.00" y1="795.96" x2="223.00" y2="795.96" stroke="#111" stroke-width="1.5" stroke-linecap="butt"/>
<rect x="214.25" y="810.01" width="11.50" height="81.49" fill="#555" stroke="#111" stroke-width="1.3"/>
<line x1="220.00" y1="891.50" x2="220.00" y2="896.00" stroke="#111" stroke-width="1.2" stroke-linecap="butt"/>
<text x="220.00" y="906.50" font-size="12" font-weight="normal" text-anchor="middle" fill="#111" stroke="#111" stroke-width="0.3">2</text>
<line x1="235.50" y1="823.98" x2="235.50" y2="838.03" stroke="#111" stroke-width="1.5" stroke-linecap="butt"/>
<line x1="232.50" y1="823.98" x2="238.50" y2="823.98" stroke="#111" stroke-width="1.5" stroke-linecap="butt"/>
<rect x="229.75" y="838.03" width="11.50" height="53.47" fill="#555" stroke="#111" stroke-width="1.3"/>
<line x1="235.50" y1="891.50" x2="235.50" y2="896.00" stroke="#111" stroke-width="1.2" stroke-linecap="butt"/>
<text x="235.50" y="906.50" font-size="12" font-weight="normal" text-anchor="middle" fill="#111" stroke="#111" stroke-width="0.3">7</text>
<line x1="250.50" y1="891.50" x2="250.50" y2="896.00" stroke="#111" stroke-width="1.2" stroke-linecap="butt"/>
<text x="250.50" y="906.50" font-size="12" font-weight="normal" text-anchor="middle" fill="#111" stroke="#111" stroke-width="0.3">14</text>
<line x1="267.00" y1="891.50" x2="267.00" y2="896.00" stroke="#111" stroke-width="1.2" stroke-linecap="butt"/>
<text x="267.00" y="906.50" font-size="12" font-weight="normal" text-anchor="middle" fill="#111" stroke="#111" stroke-width="0.3">28</text>
<line x1="196.50" y1="914.50" x2="278.50" y2="914.50" stroke="#111" stroke-width="1.3" stroke-linecap="butt"/>
<text x="234.70" y="929.20" font-size="12.3" font-weight="normal" text-anchor="middle" fill="#111" stroke="#111" stroke-width="0.3">RTX</text>
<line x1="295.50" y1="771.51" x2="295.50" y2="786.56" stroke="#111" stroke-width="1.5" stroke-linecap="butt"/>
<line x1="292.50" y1="771.51" x2="298.50" y2="771.51" stroke="#111" stroke-width="1.5" stroke-linecap="butt"/>
<rect x="289.75" y="786.56" width="11.50" height="104.94" fill="#cbcbcb" stroke="#111" stroke-width="1.3"/>
<line x1="295.50" y1="891.50" x2="295.50" y2="896.00" stroke="#111" stroke-width="1.2" stroke-linecap="butt"/>
<text x="295.50" y="906.50" font-size="12" font-weight="normal" text-anchor="middle" fill="#111" stroke="#111" stroke-width="0.3">1</text>
<line x1="311.70" y1="736.38" x2="311.70" y2="767.40" stroke="#111" stroke-width="1.5" stroke-linecap="butt"/>
<line x1="308.70" y1="736.38" x2="314.70" y2="736.38" stroke="#111" stroke-width="1.5" stroke-linecap="butt"/>
<rect x="305.95" y="767.40" width="11.50" height="124.10" fill="#cbcbcb" stroke="#111" stroke-width="1.3"/>
<line x1="311.70" y1="891.50" x2="311.70" y2="896.00" stroke="#111" stroke-width="1.2" stroke-linecap="butt"/>
<text x="311.70" y="906.50" font-size="12" font-weight="normal" text-anchor="middle" fill="#111" stroke="#111" stroke-width="0.3">2</text>
<line x1="327.50" y1="796.60" x2="327.50" y2="812.48" stroke="#111" stroke-width="1.5" stroke-linecap="butt"/>
<line x1="324.50" y1="796.60" x2="330.50" y2="796.60" stroke="#111" stroke-width="1.5" stroke-linecap="butt"/>
<rect x="321.75" y="812.48" width="11.50" height="79.02" fill="#cbcbcb" stroke="#111" stroke-width="1.3"/>
<line x1="327.50" y1="891.50" x2="327.50" y2="896.00" stroke="#111" stroke-width="1.2" stroke-linecap="butt"/>
<text x="327.50" y="906.50" font-size="12" font-weight="normal" text-anchor="middle" fill="#111" stroke="#111" stroke-width="0.3">7</text>
<line x1="344.00" y1="821.24" x2="344.00" y2="834.92" stroke="#111" stroke-width="1.5" stroke-linecap="butt"/>
<line x1="341.00" y1="821.24" x2="347.00" y2="821.24" stroke="#111" stroke-width="1.5" stroke-linecap="butt"/>
<rect x="338.25" y="834.92" width="11.50" height="56.58" fill="#cbcbcb" stroke="#111" stroke-width="1.3"/>
<line x1="344.00" y1="891.50" x2="344.00" y2="896.00" stroke="#111" stroke-width="1.2" stroke-linecap="butt"/>
<text x="344.00" y="906.50" font-size="12" font-weight="normal" text-anchor="middle" fill="#111" stroke="#111" stroke-width="0.3">14</text>
<line x1="360.00" y1="847.97" x2="360.00" y2="863.49" stroke="#111" stroke-width="1.5" stroke-linecap="butt"/>
<line x1="357.00" y1="847.97" x2="363.00" y2="847.97" stroke="#111" stroke-width="1.5" stroke-linecap="butt"/>
<rect x="354.25" y="863.49" width="11.50" height="28.01" fill="#cbcbcb" stroke="#111" stroke-width="1.3"/>
<line x1="360.00" y1="891.50" x2="360.00" y2="896.00" stroke="#111" stroke-width="1.2" stroke-linecap="butt"/>
<text x="360.00" y="906.50" font-size="12" font-weight="normal" text-anchor="middle" fill="#111" stroke="#111" stroke-width="0.3">28</text>
<line x1="285.00" y1="914.50" x2="372.50" y2="914.50" stroke="#111" stroke-width="1.3" stroke-linecap="butt"/>
<text x="329.50" y="929.20" font-size="12.3" font-weight="normal" text-anchor="middle" fill="#111" stroke="#111" stroke-width="0.3">OBZ gly</text>
<line x1="386.50" y1="761.47" x2="386.50" y2="791.49" stroke="#111" stroke-width="1.5" stroke-linecap="butt"/>
<line x1="383.50" y1="761.47" x2="389.50" y2="761.47" stroke="#111" stroke-width="1.5" stroke-linecap="butt"/>
<rect x="380.75" y="791.49" width="11.50" height="100.01" fill="#fff" stroke="#111" stroke-width="1.3"/>
<line x1="386.50" y1="891.50" x2="386.50" y2="896.00" stroke="#111" stroke-width="1.2" stroke-linecap="butt"/>
<text x="386.50" y="906.50" font-size="12" font-weight="normal" text-anchor="middle" fill="#111" stroke="#111" stroke-width="0.3">1</text>
<line x1="402.70" y1="776.98" x2="402.70" y2="798.42" stroke="#111" stroke-width="1.5" stroke-linecap="butt"/>
<line x1="399.70" y1="776.98" x2="405.70" y2="776.98" stroke="#111" stroke-width="1.5" stroke-linecap="butt"/>
<rect x="396.95" y="798.42" width="11.50" height="93.08" fill="#fff" stroke="#111" stroke-width="1.3"/>
<line x1="402.70" y1="891.50" x2="402.70" y2="896.00" stroke="#111" stroke-width="1.2" stroke-linecap="butt"/>
<text x="402.70" y="906.50" font-size="12" font-weight="normal" text-anchor="middle" fill="#111" stroke="#111" stroke-width="0.3">2</text>
<line x1="418.70" y1="812.48" x2="418.70" y2="830.00" stroke="#111" stroke-width="1.5" stroke-linecap="butt"/>
<line x1="415.70" y1="812.48" x2="421.70" y2="812.48" stroke="#111" stroke-width="1.5" stroke-linecap="butt"/>
<rect x="412.95" y="830.00" width="11.50" height="61.50" fill="#fff" stroke="#111" stroke-width="1.3"/>
<line x1="418.70" y1="891.50" x2="418.70" y2="896.00" stroke="#111" stroke-width="1.2" stroke-linecap="butt"/>
<text x="418.70" y="906.50" font-size="12" font-weight="normal" text-anchor="middle" fill="#111" stroke="#111" stroke-width="0.3">7</text>
<line x1="435.00" y1="837.66" x2="435.00" y2="852.99" stroke="#111" stroke-width="1.5" stroke-linecap="butt"/>
<line x1="432.00" y1="837.66" x2="438.00" y2="837.66" stroke="#111" stroke-width="1.5" stroke-linecap="butt"/>
<rect x="429.25" y="852.99" width="11.50" height="38.51" fill="#fff" stroke="#111" stroke-width="1.3"/>
<line x1="435.00" y1="891.50" x2="435.00" y2="896.00" stroke="#111" stroke-width="1.2" stroke-linecap="butt"/>
<text x="435.00" y="906.50" font-size="12" font-weight="normal" text-anchor="middle" fill="#111" stroke="#111" stroke-width="0.3">14</text>
<line x1="451.00" y1="867.50" x2="451.00" y2="876.53" stroke="#111" stroke-width="1.5" stroke-linecap="butt"/>
<line x1="448.00" y1="867.50" x2="454.00" y2="867.50" stroke="#111" stroke-width="1.5" stroke-linecap="butt"/>
<rect x="445.25" y="876.53" width="11.50" height="14.97" fill="#fff" stroke="#111" stroke-width="1.3"/>
<line x1="451.00" y1="891.50" x2="451.00" y2="896.00" stroke="#111" stroke-width="1.2" stroke-linecap="butt"/>
<text x="451.00" y="906.50" font-size="12" font-weight="normal" text-anchor="middle" fill="#111" stroke="#111" stroke-width="0.3">28</text>
<line x1="380.00" y1="914.50" x2="462.50" y2="914.50" stroke="#111" stroke-width="1.3" stroke-linecap="butt"/>
<text x="419.00" y="929.20" font-size="12.3" font-weight="normal" text-anchor="middle" fill="#111" stroke="#111" stroke-width="0.3">OBZ</text>
<text x="169.50" y="886.60" font-size="10.5" font-weight="normal" text-anchor="middle" fill="#111" stroke="#111" stroke-width="0.3">ND</text>
<text x="258.00" y="886.60" font-size="10.5" font-weight="normal" text-anchor="middle" fill="#111" stroke="#111" stroke-width="0.3">ND</text>
</svg>
</body></html>
